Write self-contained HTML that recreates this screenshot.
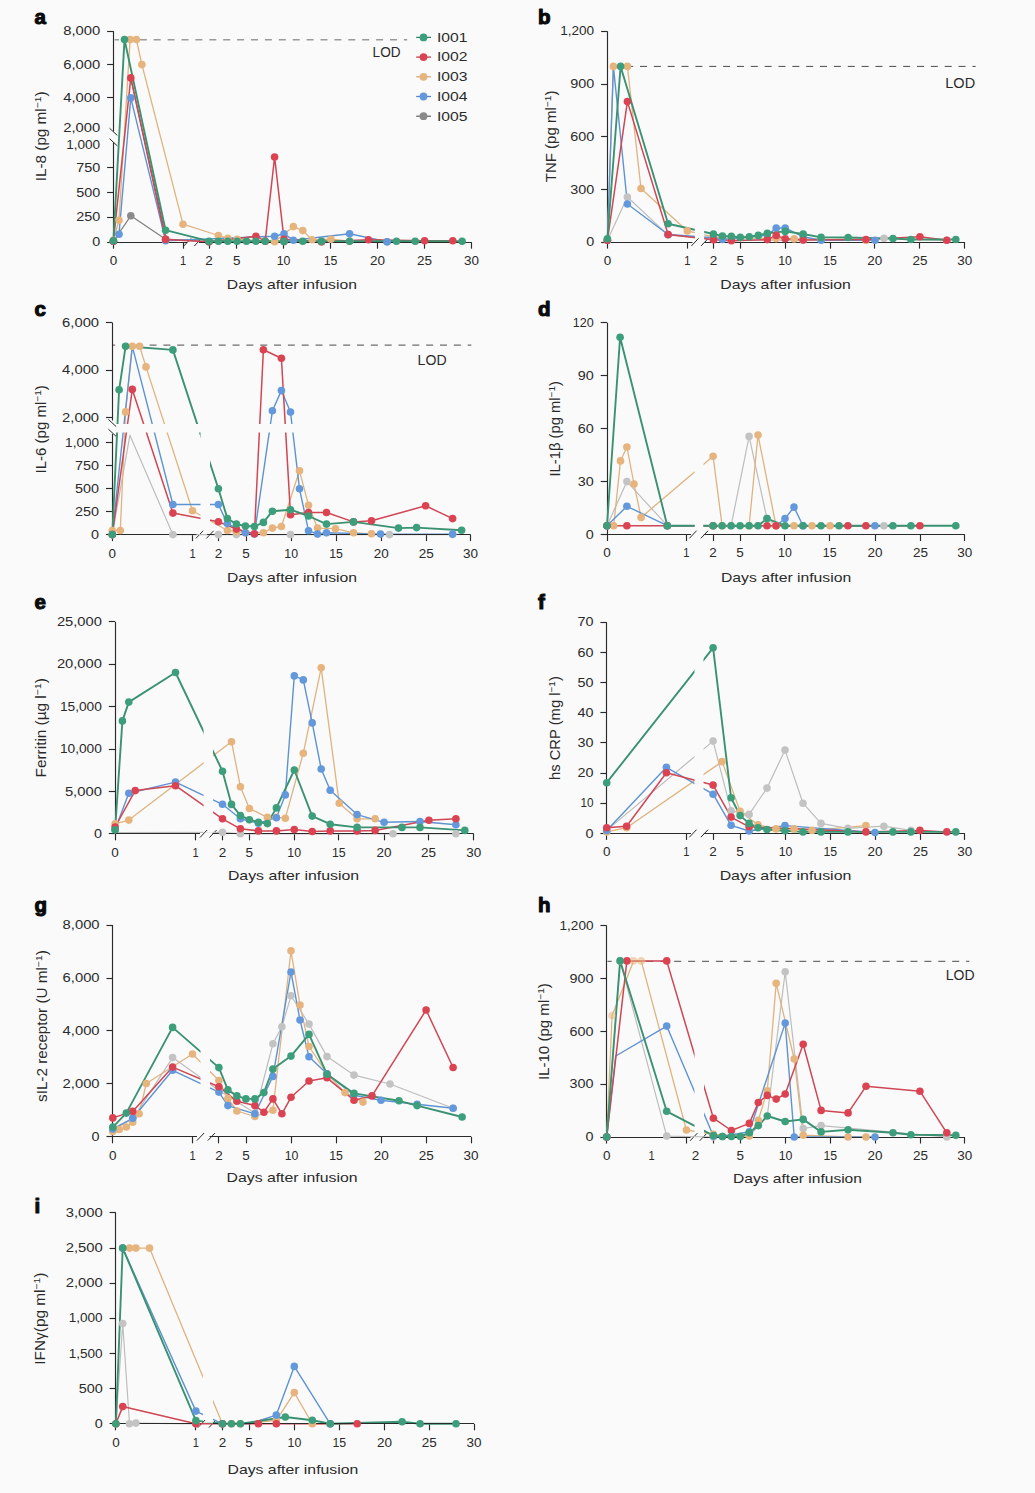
<!DOCTYPE html>
<html><head><meta charset="utf-8"><title>Cytokine kinetics</title>
<style>
html,body{margin:0;padding:0;background:#fafafa;}
svg{display:block;font-family:"Liberation Sans", sans-serif;}
</style></head>
<body>
<svg width="1035" height="1493" viewBox="0 0 1035 1493">
<defs><clipPath id="clip_b" clip-rule="evenodd"><path clip-rule="evenodd" d="M0,0H1035V1493H0Z M694.8,0V241H704.2V0Z "/></clipPath><clipPath id="clip_c" clip-rule="evenodd"><path clip-rule="evenodd" d="M0,0H1035V1493H0Z M200.5,300V533.5H210.0V300Z M116,424.0V432.5H200.5V424.0Z M210.0,424.0V432.5H472V424.0Z "/></clipPath><clipPath id="clip_d" clip-rule="evenodd"><path clip-rule="evenodd" d="M0,0H1035V1493H0Z M694.5,300V533.5H703.5V300Z "/></clipPath><clipPath id="clip_e" clip-rule="evenodd"><path clip-rule="evenodd" d="M0,0H1035V1493H0Z M203.6,600V832.8H213.0V600Z "/></clipPath><clipPath id="clip_f" clip-rule="evenodd"><path clip-rule="evenodd" d="M0,0H1035V1493H0Z M694.5,600V832.4H703.5V600Z "/></clipPath><clipPath id="clip_g" clip-rule="evenodd"><path clip-rule="evenodd" d="M0,0H1035V1493H0Z M200.5,900V1135.8H210.0V900Z "/></clipPath><clipPath id="clip_h" clip-rule="evenodd"><path clip-rule="evenodd" d="M0,0H1035V1493H0Z M694.5,900V1136.0H704.0V900Z "/></clipPath><clipPath id="clip_i" clip-rule="evenodd"><path clip-rule="evenodd" d="M0,0H1035V1493H0Z M203.0,1200V1422.8H213.0V1200Z "/></clipPath></defs>
<rect width="1035" height="1493" fill="#fafafa"/>
<text x="34.4" y="24.0" font-size="20.5" font-weight="bold" fill="#0a0a0a" stroke="#0a0a0a" stroke-width="1.1" stroke-linejoin="round">a</text>
<line x1="113.5" y1="31.2" x2="113.5" y2="131.3" stroke="#2a2a2a" stroke-width="1.15"/>
<line x1="113.5" y1="142.5" x2="113.5" y2="242.2" stroke="#2a2a2a" stroke-width="1.15"/>
<line x1="107.1" y1="31.5" x2="113.4" y2="31.5" stroke="#2a2a2a" stroke-width="1.15"/>
<text x="100.2" y="35.3" font-size="12.3" text-anchor="end" textLength="37.0" lengthAdjust="spacingAndGlyphs" fill="#2a2a2a">8,000</text>
<line x1="107.1" y1="64.5" x2="113.4" y2="64.5" stroke="#2a2a2a" stroke-width="1.15"/>
<text x="100.2" y="68.7" font-size="12.3" text-anchor="end" textLength="37.0" lengthAdjust="spacingAndGlyphs" fill="#2a2a2a">6,000</text>
<line x1="107.1" y1="97.5" x2="113.4" y2="97.5" stroke="#2a2a2a" stroke-width="1.15"/>
<text x="100.2" y="102.0" font-size="12.3" text-anchor="end" textLength="37.0" lengthAdjust="spacingAndGlyphs" fill="#2a2a2a">4,000</text>
<text x="100.2" y="131.5" font-size="12.3" text-anchor="end" textLength="37.0" lengthAdjust="spacingAndGlyphs" fill="#2a2a2a">2,000</text>
<text x="100.2" y="148.5" font-size="12.3" text-anchor="end" textLength="34.0" lengthAdjust="spacingAndGlyphs" fill="#2a2a2a">1,000</text>
<line x1="107.1" y1="167.5" x2="113.4" y2="167.5" stroke="#2a2a2a" stroke-width="1.15"/>
<text x="100.2" y="171.5" font-size="12.3" text-anchor="end" textLength="24.0" lengthAdjust="spacingAndGlyphs" fill="#2a2a2a">750</text>
<line x1="107.1" y1="192.5" x2="113.4" y2="192.5" stroke="#2a2a2a" stroke-width="1.15"/>
<text x="100.2" y="196.5" font-size="12.3" text-anchor="end" textLength="24.0" lengthAdjust="spacingAndGlyphs" fill="#2a2a2a">500</text>
<line x1="107.1" y1="217.5" x2="113.4" y2="217.5" stroke="#2a2a2a" stroke-width="1.15"/>
<text x="100.2" y="221.4" font-size="12.3" text-anchor="end" textLength="24.0" lengthAdjust="spacingAndGlyphs" fill="#2a2a2a">250</text>
<line x1="107.1" y1="242.5" x2="113.4" y2="242.5" stroke="#2a2a2a" stroke-width="1.15"/>
<text x="100.2" y="246.3" font-size="12.3" text-anchor="end" textLength="8.0" lengthAdjust="spacingAndGlyphs" fill="#2a2a2a">0</text>
<line x1="109.5" y1="128.2" x2="117.3" y2="135.4" stroke="#2a2a2a" stroke-width="1"/>
<line x1="109.5" y1="138.6" x2="117.3" y2="145.8" stroke="#2a2a2a" stroke-width="1"/>
<line x1="113.5" y1="242.2" x2="113.5" y2="248.7" stroke="#2a2a2a" stroke-width="1.15"/>
<text x="113.4" y="265.1" font-size="12.1" text-anchor="middle" textLength="7.5" lengthAdjust="spacingAndGlyphs" fill="#2a2a2a">0</text>
<line x1="183.5" y1="242.2" x2="183.5" y2="248.7" stroke="#2a2a2a" stroke-width="1.15"/>
<text x="183.0" y="265.1" font-size="12.1" text-anchor="middle" textLength="6.2" lengthAdjust="spacingAndGlyphs" fill="#2a2a2a">1</text>
<line x1="209.5" y1="242.2" x2="209.5" y2="248.7" stroke="#2a2a2a" stroke-width="1.15"/>
<text x="209.0" y="265.1" font-size="12.1" text-anchor="middle" textLength="7.5" lengthAdjust="spacingAndGlyphs" fill="#2a2a2a">2</text>
<line x1="236.5" y1="242.2" x2="236.5" y2="248.7" stroke="#2a2a2a" stroke-width="1.15"/>
<text x="236.8" y="265.1" font-size="12.1" text-anchor="middle" textLength="7.5" lengthAdjust="spacingAndGlyphs" fill="#2a2a2a">5</text>
<line x1="283.5" y1="242.2" x2="283.5" y2="248.7" stroke="#2a2a2a" stroke-width="1.15"/>
<text x="283.6" y="265.1" font-size="12.1" text-anchor="middle" textLength="13.7" lengthAdjust="spacingAndGlyphs" fill="#2a2a2a">10</text>
<line x1="330.5" y1="242.2" x2="330.5" y2="248.7" stroke="#2a2a2a" stroke-width="1.15"/>
<text x="330.5" y="265.1" font-size="12.1" text-anchor="middle" textLength="13.7" lengthAdjust="spacingAndGlyphs" fill="#2a2a2a">15</text>
<line x1="377.5" y1="242.2" x2="377.5" y2="248.7" stroke="#2a2a2a" stroke-width="1.15"/>
<text x="377.5" y="265.1" font-size="12.1" text-anchor="middle" textLength="15.0" lengthAdjust="spacingAndGlyphs" fill="#2a2a2a">20</text>
<line x1="424.5" y1="242.2" x2="424.5" y2="248.7" stroke="#2a2a2a" stroke-width="1.15"/>
<text x="424.6" y="265.1" font-size="12.1" text-anchor="middle" textLength="15.0" lengthAdjust="spacingAndGlyphs" fill="#2a2a2a">25</text>
<line x1="471.5" y1="242.2" x2="471.5" y2="248.7" stroke="#2a2a2a" stroke-width="1.15"/>
<text x="471.5" y="265.1" font-size="12.1" text-anchor="middle" textLength="15.0" lengthAdjust="spacingAndGlyphs" fill="#2a2a2a">30</text>
<line x1="183.8" y1="246.0" x2="191.0" y2="238.4" stroke="#2a2a2a" stroke-width="1"/>
<line x1="194.3" y1="246.0" x2="201.5" y2="238.4" stroke="#2a2a2a" stroke-width="1"/>
<text x="291.9" y="288.8" font-size="13.6" text-anchor="middle" textLength="130.1" lengthAdjust="spacingAndGlyphs" fill="#2a2a2a">Days after infusion</text>
<text transform="translate(45.8,136.3) rotate(-90) scale(1.092,1)" x="0" y="0" font-size="14" text-anchor="middle" fill="#2a2a2a">IL-8 (pg ml<tspan font-size="9.5" dy="-5.2">−1</tspan><tspan dy="5.2">)</tspan></text>
<line x1="114.5" y1="39.8" x2="407.2" y2="39.8" stroke="#9a9a9a" stroke-width="1.5" stroke-dasharray="7,6.9" stroke-dashoffset="2.50"/>
<text x="372.6" y="56.6" font-size="13.8" textLength="28.0" lengthAdjust="spacingAndGlyphs" fill="#2a2a2a">LOD</text>
<polyline points="113.4,241.2 130.8,215.8 165.6,239.2 209.0,241.7 284.0,241.7 321.5,241.7 387.1,241.7" fill="none" stroke="#7f7f7f" stroke-width="1.2" stroke-linejoin="round"/>
<polyline points="113.4,240.2 119.0,220.3 130.1,39.5 136.4,39.5 141.9,64.6 183.0,224.2 218.4,235.5 227.8,238.4 237.1,239.2 274.6,241.7 293.4,226.6 302.8,230.6 312.1,239.8 330.9,239.2 349.6,241.2" fill="none" stroke="#dfb37f" stroke-width="1.3" stroke-linejoin="round"/>
<polyline points="130.8,77.9 165.6,236.2" fill="none" stroke="#a8535c" stroke-width="1.2" stroke-linejoin="round"/>
<polyline points="113.4,241.2 119.0,234.2 130.8,97.9 165.6,240.7 274.6,236.2 284.0,233.8 293.4,240.2 349.6,233.7 387.1,241.7" fill="none" stroke="#5e93d2" stroke-width="1.4" stroke-linejoin="round"/>
<polyline points="113.4,241.2 130.8,77.9 165.6,239.4 209.0,241.7 255.9,236.2 265.2,241.2 274.6,157.0 284.0,239.2 321.5,241.7 368.4,239.7 424.6,240.7 452.8,240.7" fill="none" stroke="#cf4654" stroke-width="1.5" stroke-linejoin="round"/>
<polyline points="113.4,240.7 124.5,39.5 165.6,230.2 209.0,241.2 218.4,241.2 227.8,241.2 237.1,241.2 246.5,241.2 255.9,241.2 265.2,241.2 284.0,241.2 302.8,241.2 321.5,241.2 349.6,241.2 396.5,241.2 415.2,241.2 462.1,241.2" fill="none" stroke="#3b9272" stroke-width="1.9" stroke-linejoin="round"/>
<line x1="113.4" y1="242.5" x2="187.0" y2="242.5" stroke="#2a2a2a" stroke-width="1.15"/>
<line x1="199.0" y1="242.5" x2="471.5" y2="242.5" stroke="#2a2a2a" stroke-width="1.15"/>
<circle cx="113.4" cy="241.2" r="3.8" fill="#8a8a8a"/>
<circle cx="130.8" cy="215.8" r="3.8" fill="#8a8a8a"/>
<circle cx="165.6" cy="239.2" r="3.8" fill="#8a8a8a"/>
<circle cx="209.0" cy="241.7" r="3.8" fill="#8a8a8a"/>
<circle cx="284.0" cy="241.7" r="3.8" fill="#8a8a8a"/>
<circle cx="321.5" cy="241.7" r="3.8" fill="#8a8a8a"/>
<circle cx="387.1" cy="241.7" r="3.8" fill="#8a8a8a"/>
<circle cx="113.4" cy="240.2" r="3.8" fill="#e6b47c"/>
<circle cx="119.0" cy="220.3" r="3.8" fill="#e6b47c"/>
<circle cx="130.1" cy="39.5" r="3.8" fill="#e6b47c"/>
<circle cx="136.4" cy="39.5" r="3.8" fill="#e6b47c"/>
<circle cx="141.9" cy="64.6" r="3.8" fill="#e6b47c"/>
<circle cx="183.0" cy="224.2" r="3.8" fill="#e6b47c"/>
<circle cx="218.4" cy="235.5" r="3.8" fill="#e6b47c"/>
<circle cx="227.8" cy="238.4" r="3.8" fill="#e6b47c"/>
<circle cx="237.1" cy="239.2" r="3.8" fill="#e6b47c"/>
<circle cx="274.6" cy="241.7" r="3.8" fill="#e6b47c"/>
<circle cx="293.4" cy="226.6" r="3.8" fill="#e6b47c"/>
<circle cx="302.8" cy="230.6" r="3.8" fill="#e6b47c"/>
<circle cx="312.1" cy="239.8" r="3.8" fill="#e6b47c"/>
<circle cx="330.9" cy="239.2" r="3.8" fill="#e6b47c"/>
<circle cx="349.6" cy="241.2" r="3.8" fill="#e6b47c"/>
<circle cx="113.4" cy="241.2" r="3.8" fill="#6399dc"/>
<circle cx="119.0" cy="234.2" r="3.8" fill="#6399dc"/>
<circle cx="130.8" cy="97.9" r="3.8" fill="#6399dc"/>
<circle cx="165.6" cy="240.7" r="3.8" fill="#6399dc"/>
<circle cx="274.6" cy="236.2" r="3.8" fill="#6399dc"/>
<circle cx="284.0" cy="233.8" r="3.8" fill="#6399dc"/>
<circle cx="293.4" cy="240.2" r="3.8" fill="#6399dc"/>
<circle cx="349.6" cy="233.7" r="3.8" fill="#6399dc"/>
<circle cx="387.1" cy="241.7" r="3.8" fill="#6399dc"/>
<circle cx="113.4" cy="241.2" r="3.8" fill="#dc4352"/>
<circle cx="130.8" cy="77.9" r="3.8" fill="#dc4352"/>
<circle cx="165.6" cy="239.4" r="3.8" fill="#dc4352"/>
<circle cx="209.0" cy="241.7" r="3.8" fill="#dc4352"/>
<circle cx="255.9" cy="236.2" r="3.8" fill="#dc4352"/>
<circle cx="265.2" cy="241.2" r="3.8" fill="#dc4352"/>
<circle cx="274.6" cy="157.0" r="3.8" fill="#dc4352"/>
<circle cx="284.0" cy="239.2" r="3.8" fill="#dc4352"/>
<circle cx="321.5" cy="241.7" r="3.8" fill="#dc4352"/>
<circle cx="368.4" cy="239.7" r="3.8" fill="#dc4352"/>
<circle cx="424.6" cy="240.7" r="3.8" fill="#dc4352"/>
<circle cx="452.8" cy="240.7" r="3.8" fill="#dc4352"/>
<circle cx="113.4" cy="240.7" r="3.8" fill="#3d9e7b"/>
<circle cx="124.5" cy="39.5" r="3.8" fill="#3d9e7b"/>
<circle cx="165.6" cy="230.2" r="3.8" fill="#3d9e7b"/>
<circle cx="209.0" cy="241.2" r="3.8" fill="#3d9e7b"/>
<circle cx="218.4" cy="241.2" r="3.8" fill="#3d9e7b"/>
<circle cx="227.8" cy="241.2" r="3.8" fill="#3d9e7b"/>
<circle cx="237.1" cy="241.2" r="3.8" fill="#3d9e7b"/>
<circle cx="246.5" cy="241.2" r="3.8" fill="#3d9e7b"/>
<circle cx="255.9" cy="241.2" r="3.8" fill="#3d9e7b"/>
<circle cx="265.2" cy="241.2" r="3.8" fill="#3d9e7b"/>
<circle cx="284.0" cy="241.2" r="3.8" fill="#3d9e7b"/>
<circle cx="302.8" cy="241.2" r="3.8" fill="#3d9e7b"/>
<circle cx="321.5" cy="241.2" r="3.8" fill="#3d9e7b"/>
<circle cx="349.6" cy="241.2" r="3.8" fill="#3d9e7b"/>
<circle cx="396.5" cy="241.2" r="3.8" fill="#3d9e7b"/>
<circle cx="415.2" cy="241.2" r="3.8" fill="#3d9e7b"/>
<circle cx="462.1" cy="241.2" r="3.8" fill="#3d9e7b"/>
<line x1="416.2" y1="37.4" x2="431.0" y2="37.4" stroke="#347f64" stroke-width="1.3"/>
<circle cx="423.5" cy="37.4" r="3.9" fill="#3d9e7b"/>
<text x="436.9" y="41.7" font-size="13.4" textLength="30.5" lengthAdjust="spacingAndGlyphs" fill="#2a2a2a">I001</text>
<line x1="416.2" y1="57.1" x2="431.0" y2="57.1" stroke="#b8424d" stroke-width="1.3"/>
<circle cx="423.5" cy="57.1" r="3.9" fill="#dc4352"/>
<text x="436.9" y="61.4" font-size="13.4" textLength="30.5" lengthAdjust="spacingAndGlyphs" fill="#2a2a2a">I002</text>
<line x1="416.2" y1="76.8" x2="431.0" y2="76.8" stroke="#d2a877" stroke-width="1.3"/>
<circle cx="423.5" cy="76.8" r="3.9" fill="#e6b47c"/>
<text x="436.9" y="81.1" font-size="13.4" textLength="30.5" lengthAdjust="spacingAndGlyphs" fill="#2a2a2a">I003</text>
<line x1="416.2" y1="96.5" x2="431.0" y2="96.5" stroke="#5283c4" stroke-width="1.3"/>
<circle cx="423.5" cy="96.5" r="3.9" fill="#6399dc"/>
<text x="436.9" y="100.8" font-size="13.4" textLength="30.5" lengthAdjust="spacingAndGlyphs" fill="#2a2a2a">I004</text>
<line x1="416.2" y1="116.2" x2="431.0" y2="116.2" stroke="#6a6a6a" stroke-width="1.3"/>
<circle cx="423.5" cy="116.2" r="3.9" fill="#8a8a8a"/>
<text x="436.9" y="120.5" font-size="13.4" textLength="30.5" lengthAdjust="spacingAndGlyphs" fill="#2a2a2a">I005</text>
<text x="538.1" y="23.7" font-size="20.5" font-weight="bold" fill="#0a0a0a" stroke="#0a0a0a" stroke-width="1.1" stroke-linejoin="round">b</text>
<line x1="607.5" y1="31.3" x2="607.5" y2="242.1" stroke="#2a2a2a" stroke-width="1.15"/>
<line x1="601.1" y1="31.5" x2="607.4" y2="31.5" stroke="#2a2a2a" stroke-width="1.15"/>
<text x="594.2" y="35.4" font-size="12.3" text-anchor="end" textLength="34.0" lengthAdjust="spacingAndGlyphs" fill="#2a2a2a">1,200</text>
<line x1="601.1" y1="84.5" x2="607.4" y2="84.5" stroke="#2a2a2a" stroke-width="1.15"/>
<text x="594.2" y="88.1" font-size="12.3" text-anchor="end" textLength="24.0" lengthAdjust="spacingAndGlyphs" fill="#2a2a2a">900</text>
<line x1="601.1" y1="136.5" x2="607.4" y2="136.5" stroke="#2a2a2a" stroke-width="1.15"/>
<text x="594.2" y="140.8" font-size="12.3" text-anchor="end" textLength="24.0" lengthAdjust="spacingAndGlyphs" fill="#2a2a2a">600</text>
<line x1="601.1" y1="189.5" x2="607.4" y2="189.5" stroke="#2a2a2a" stroke-width="1.15"/>
<text x="594.2" y="193.5" font-size="12.3" text-anchor="end" textLength="24.0" lengthAdjust="spacingAndGlyphs" fill="#2a2a2a">300</text>
<line x1="601.1" y1="242.5" x2="607.4" y2="242.5" stroke="#2a2a2a" stroke-width="1.15"/>
<text x="594.2" y="246.2" font-size="12.3" text-anchor="end" textLength="8.0" lengthAdjust="spacingAndGlyphs" fill="#2a2a2a">0</text>
<line x1="607.5" y1="242.1" x2="607.5" y2="248.6" stroke="#2a2a2a" stroke-width="1.15"/>
<text x="607.4" y="265.0" font-size="12.1" text-anchor="middle" textLength="7.5" lengthAdjust="spacingAndGlyphs" fill="#2a2a2a">0</text>
<line x1="687.5" y1="242.1" x2="687.5" y2="248.6" stroke="#2a2a2a" stroke-width="1.15"/>
<text x="687.3" y="265.0" font-size="12.1" text-anchor="middle" textLength="6.2" lengthAdjust="spacingAndGlyphs" fill="#2a2a2a">1</text>
<line x1="713.5" y1="242.1" x2="713.5" y2="248.6" stroke="#2a2a2a" stroke-width="1.15"/>
<text x="713.4" y="265.0" font-size="12.1" text-anchor="middle" textLength="7.5" lengthAdjust="spacingAndGlyphs" fill="#2a2a2a">2</text>
<line x1="740.5" y1="242.1" x2="740.5" y2="248.6" stroke="#2a2a2a" stroke-width="1.15"/>
<text x="740.3" y="265.0" font-size="12.1" text-anchor="middle" textLength="7.5" lengthAdjust="spacingAndGlyphs" fill="#2a2a2a">5</text>
<line x1="785.5" y1="242.1" x2="785.5" y2="248.6" stroke="#2a2a2a" stroke-width="1.15"/>
<text x="785.0" y="265.0" font-size="12.1" text-anchor="middle" textLength="13.7" lengthAdjust="spacingAndGlyphs" fill="#2a2a2a">10</text>
<line x1="830.5" y1="242.1" x2="830.5" y2="248.6" stroke="#2a2a2a" stroke-width="1.15"/>
<text x="830.0" y="265.0" font-size="12.1" text-anchor="middle" textLength="13.7" lengthAdjust="spacingAndGlyphs" fill="#2a2a2a">15</text>
<line x1="874.5" y1="242.1" x2="874.5" y2="248.6" stroke="#2a2a2a" stroke-width="1.15"/>
<text x="874.8" y="265.0" font-size="12.1" text-anchor="middle" textLength="15.0" lengthAdjust="spacingAndGlyphs" fill="#2a2a2a">20</text>
<line x1="919.5" y1="242.1" x2="919.5" y2="248.6" stroke="#2a2a2a" stroke-width="1.15"/>
<text x="919.9" y="265.0" font-size="12.1" text-anchor="middle" textLength="15.0" lengthAdjust="spacingAndGlyphs" fill="#2a2a2a">25</text>
<line x1="964.5" y1="242.1" x2="964.5" y2="248.6" stroke="#2a2a2a" stroke-width="1.15"/>
<text x="964.8" y="265.0" font-size="12.1" text-anchor="middle" textLength="15.0" lengthAdjust="spacingAndGlyphs" fill="#2a2a2a">30</text>
<line x1="691.4" y1="245.9" x2="698.6" y2="238.3" stroke="#2a2a2a" stroke-width="1"/>
<line x1="701.1" y1="245.9" x2="708.3" y2="238.3" stroke="#2a2a2a" stroke-width="1"/>
<text x="785.6" y="288.6" font-size="13.6" text-anchor="middle" textLength="130.5" lengthAdjust="spacingAndGlyphs" fill="#2a2a2a">Days after infusion</text>
<text transform="translate(555.9,136.4) rotate(-90) scale(1.073,1)" x="0" y="0" font-size="14" text-anchor="middle" fill="#2a2a2a">TNF (pg ml<tspan font-size="9.5" dy="-5.2">−1</tspan><tspan dy="5.2">)</tspan></text>
<line x1="608.5" y1="66.4" x2="975.7" y2="66.4" stroke="#4a4a4a" stroke-width="1.0" stroke-dasharray="7,6.85" stroke-dashoffset="10.05"/>
<text x="945.3" y="87.6" font-size="14.4" textLength="29.8" lengthAdjust="spacingAndGlyphs" fill="#2a2a2a">LOD</text>
<polyline points="607.4,240.3 627.4,197.0 668.1,235.1 713.4,238.6 731.4,240.0 803.2,240.3 884.0,238.2 946.8,240.3" fill="none" stroke="#bdbdbd" stroke-width="1.2" stroke-linejoin="round" clip-path="url(#clip_b)"/>
<polyline points="607.4,240.3 613.4,66.4 627.4,66.4 641.0,188.5 687.3,230.9 713.4,236.8 722.4,237.7 776.2,238.6 794.2,238.9 821.1,239.5 866.0,240.3" fill="none" stroke="#dfb37f" stroke-width="1.3" stroke-linejoin="round" clip-path="url(#clip_b)"/>
<polyline points="607.4,240.3 613.4,66.4 627.4,204.0 668.1,234.5 713.4,237.7 722.4,239.5 767.3,235.1 776.2,228.0 785.2,228.0 803.2,236.8 821.1,240.3 875.0,240.3" fill="none" stroke="#5e93d2" stroke-width="1.4" stroke-linejoin="round" clip-path="url(#clip_b)"/>
<polyline points="607.4,240.3 627.4,101.6 668.1,234.5 713.4,239.8 731.4,240.7 767.3,239.6 776.2,235.4 785.2,238.8 803.2,240.0 866.0,239.5 919.9,236.7 946.8,240.3" fill="none" stroke="#cf4654" stroke-width="1.5" stroke-linejoin="round" clip-path="url(#clip_b)"/>
<polyline points="607.4,238.8 620.6,66.4 668.1,223.7 713.4,234.0 722.4,236.1 731.4,236.3 740.3,237.4 749.3,236.7 758.3,235.4 767.3,233.3 785.2,231.4 803.2,234.0 821.1,237.4 848.1,237.5 893.0,238.6 910.9,239.5 955.8,239.5" fill="none" stroke="#3b9272" stroke-width="1.9" stroke-linejoin="round" clip-path="url(#clip_b)"/>
<line x1="607.4" y1="242.5" x2="692.4" y2="242.5" stroke="#2a2a2a" stroke-width="1.15"/>
<line x1="704.4" y1="242.5" x2="964.8" y2="242.5" stroke="#2a2a2a" stroke-width="1.15"/>
<circle cx="607.4" cy="240.3" r="3.8" fill="#c3c3c3"/>
<circle cx="627.4" cy="197.0" r="3.8" fill="#c3c3c3"/>
<circle cx="668.1" cy="235.1" r="3.8" fill="#c3c3c3"/>
<circle cx="713.4" cy="238.6" r="3.8" fill="#c3c3c3"/>
<circle cx="731.4" cy="240.0" r="3.8" fill="#c3c3c3"/>
<circle cx="803.2" cy="240.3" r="3.8" fill="#c3c3c3"/>
<circle cx="884.0" cy="238.2" r="3.8" fill="#c3c3c3"/>
<circle cx="946.8" cy="240.3" r="3.8" fill="#c3c3c3"/>
<circle cx="607.4" cy="240.3" r="3.8" fill="#e6b47c"/>
<circle cx="613.4" cy="66.4" r="3.8" fill="#e6b47c"/>
<circle cx="627.4" cy="66.4" r="3.8" fill="#e6b47c"/>
<circle cx="641.0" cy="188.5" r="3.8" fill="#e6b47c"/>
<circle cx="687.3" cy="230.9" r="3.8" fill="#e6b47c"/>
<circle cx="713.4" cy="236.8" r="3.8" fill="#e6b47c"/>
<circle cx="722.4" cy="237.7" r="3.8" fill="#e6b47c"/>
<circle cx="776.2" cy="238.6" r="3.8" fill="#e6b47c"/>
<circle cx="794.2" cy="238.9" r="3.8" fill="#e6b47c"/>
<circle cx="821.1" cy="239.5" r="3.8" fill="#e6b47c"/>
<circle cx="866.0" cy="240.3" r="3.8" fill="#e6b47c"/>
<circle cx="607.4" cy="240.3" r="3.8" fill="#6399dc"/>
<circle cx="627.4" cy="204.0" r="3.8" fill="#6399dc"/>
<circle cx="668.1" cy="234.5" r="3.8" fill="#6399dc"/>
<circle cx="713.4" cy="237.7" r="3.8" fill="#6399dc"/>
<circle cx="722.4" cy="239.5" r="3.8" fill="#6399dc"/>
<circle cx="767.3" cy="235.1" r="3.8" fill="#6399dc"/>
<circle cx="776.2" cy="228.0" r="3.8" fill="#6399dc"/>
<circle cx="785.2" cy="228.0" r="3.8" fill="#6399dc"/>
<circle cx="803.2" cy="236.8" r="3.8" fill="#6399dc"/>
<circle cx="821.1" cy="240.3" r="3.8" fill="#6399dc"/>
<circle cx="875.0" cy="240.3" r="3.8" fill="#6399dc"/>
<circle cx="607.4" cy="240.3" r="3.8" fill="#dc4352"/>
<circle cx="627.4" cy="101.6" r="3.8" fill="#dc4352"/>
<circle cx="668.1" cy="234.5" r="3.8" fill="#dc4352"/>
<circle cx="713.4" cy="239.8" r="3.8" fill="#dc4352"/>
<circle cx="731.4" cy="240.7" r="3.8" fill="#dc4352"/>
<circle cx="767.3" cy="239.6" r="3.8" fill="#dc4352"/>
<circle cx="776.2" cy="235.4" r="3.8" fill="#dc4352"/>
<circle cx="785.2" cy="238.8" r="3.8" fill="#dc4352"/>
<circle cx="803.2" cy="240.0" r="3.8" fill="#dc4352"/>
<circle cx="866.0" cy="239.5" r="3.8" fill="#dc4352"/>
<circle cx="919.9" cy="236.7" r="3.8" fill="#dc4352"/>
<circle cx="946.8" cy="240.3" r="3.8" fill="#dc4352"/>
<circle cx="607.4" cy="238.8" r="3.8" fill="#3d9e7b"/>
<circle cx="620.6" cy="66.4" r="3.8" fill="#3d9e7b"/>
<circle cx="668.1" cy="223.7" r="3.8" fill="#3d9e7b"/>
<circle cx="713.4" cy="234.0" r="3.8" fill="#3d9e7b"/>
<circle cx="722.4" cy="236.1" r="3.8" fill="#3d9e7b"/>
<circle cx="731.4" cy="236.3" r="3.8" fill="#3d9e7b"/>
<circle cx="740.3" cy="237.4" r="3.8" fill="#3d9e7b"/>
<circle cx="749.3" cy="236.7" r="3.8" fill="#3d9e7b"/>
<circle cx="758.3" cy="235.4" r="3.8" fill="#3d9e7b"/>
<circle cx="767.3" cy="233.3" r="3.8" fill="#3d9e7b"/>
<circle cx="785.2" cy="231.4" r="3.8" fill="#3d9e7b"/>
<circle cx="803.2" cy="234.0" r="3.8" fill="#3d9e7b"/>
<circle cx="821.1" cy="237.4" r="3.8" fill="#3d9e7b"/>
<circle cx="848.1" cy="237.5" r="3.8" fill="#3d9e7b"/>
<circle cx="893.0" cy="238.6" r="3.8" fill="#3d9e7b"/>
<circle cx="910.9" cy="239.5" r="3.8" fill="#3d9e7b"/>
<circle cx="955.8" cy="239.5" r="3.8" fill="#3d9e7b"/>
<text x="34.4" y="316.3" font-size="20.5" font-weight="bold" fill="#0a0a0a" stroke="#0a0a0a" stroke-width="1.1" stroke-linejoin="round">c</text>
<line x1="112.5" y1="322.6" x2="112.5" y2="420.5" stroke="#2a2a2a" stroke-width="1.15"/>
<line x1="112.5" y1="434.0" x2="112.5" y2="534.6" stroke="#2a2a2a" stroke-width="1.15"/>
<line x1="106.0" y1="322.5" x2="112.3" y2="322.5" stroke="#2a2a2a" stroke-width="1.15"/>
<text x="99.1" y="326.7" font-size="12.3" text-anchor="end" textLength="37.0" lengthAdjust="spacingAndGlyphs" fill="#2a2a2a">6,000</text>
<line x1="106.0" y1="370.5" x2="112.3" y2="370.5" stroke="#2a2a2a" stroke-width="1.15"/>
<text x="99.1" y="374.3" font-size="12.3" text-anchor="end" textLength="37.0" lengthAdjust="spacingAndGlyphs" fill="#2a2a2a">4,000</text>
<line x1="106.0" y1="417.5" x2="112.3" y2="417.5" stroke="#2a2a2a" stroke-width="1.15"/>
<text x="99.1" y="421.5" font-size="12.3" text-anchor="end" textLength="37.0" lengthAdjust="spacingAndGlyphs" fill="#2a2a2a">2,000</text>
<line x1="106.0" y1="442.5" x2="112.3" y2="442.5" stroke="#2a2a2a" stroke-width="1.15"/>
<text x="99.1" y="447.0" font-size="12.3" text-anchor="end" textLength="34.0" lengthAdjust="spacingAndGlyphs" fill="#2a2a2a">1,000</text>
<line x1="106.0" y1="465.5" x2="112.3" y2="465.5" stroke="#2a2a2a" stroke-width="1.15"/>
<text x="99.1" y="469.9" font-size="12.3" text-anchor="end" textLength="24.0" lengthAdjust="spacingAndGlyphs" fill="#2a2a2a">750</text>
<line x1="106.0" y1="488.5" x2="112.3" y2="488.5" stroke="#2a2a2a" stroke-width="1.15"/>
<text x="99.1" y="492.9" font-size="12.3" text-anchor="end" textLength="24.0" lengthAdjust="spacingAndGlyphs" fill="#2a2a2a">500</text>
<line x1="106.0" y1="511.5" x2="112.3" y2="511.5" stroke="#2a2a2a" stroke-width="1.15"/>
<text x="99.1" y="515.8" font-size="12.3" text-anchor="end" textLength="24.0" lengthAdjust="spacingAndGlyphs" fill="#2a2a2a">250</text>
<line x1="106.0" y1="534.5" x2="112.3" y2="534.5" stroke="#2a2a2a" stroke-width="1.15"/>
<text x="99.1" y="538.7" font-size="12.3" text-anchor="end" textLength="8.0" lengthAdjust="spacingAndGlyphs" fill="#2a2a2a">0</text>
<line x1="108.4" y1="419.4" x2="116.2" y2="426.6" stroke="#2a2a2a" stroke-width="1"/>
<line x1="108.4" y1="429.2" x2="116.2" y2="436.4" stroke="#2a2a2a" stroke-width="1"/>
<line x1="112.5" y1="534.6" x2="112.5" y2="541.1" stroke="#2a2a2a" stroke-width="1.15"/>
<text x="112.3" y="557.5" font-size="12.1" text-anchor="middle" textLength="7.5" lengthAdjust="spacingAndGlyphs" fill="#2a2a2a">0</text>
<line x1="192.5" y1="534.6" x2="192.5" y2="541.1" stroke="#2a2a2a" stroke-width="1.15"/>
<text x="192.5" y="557.5" font-size="12.1" text-anchor="middle" textLength="6.2" lengthAdjust="spacingAndGlyphs" fill="#2a2a2a">1</text>
<line x1="218.5" y1="534.6" x2="218.5" y2="541.1" stroke="#2a2a2a" stroke-width="1.15"/>
<text x="218.4" y="557.5" font-size="12.1" text-anchor="middle" textLength="7.5" lengthAdjust="spacingAndGlyphs" fill="#2a2a2a">2</text>
<line x1="246.5" y1="534.6" x2="246.5" y2="541.1" stroke="#2a2a2a" stroke-width="1.15"/>
<text x="246.0" y="557.5" font-size="12.1" text-anchor="middle" textLength="7.5" lengthAdjust="spacingAndGlyphs" fill="#2a2a2a">5</text>
<line x1="291.5" y1="534.6" x2="291.5" y2="541.1" stroke="#2a2a2a" stroke-width="1.15"/>
<text x="291.2" y="557.5" font-size="12.1" text-anchor="middle" textLength="13.7" lengthAdjust="spacingAndGlyphs" fill="#2a2a2a">10</text>
<line x1="336.5" y1="534.6" x2="336.5" y2="541.1" stroke="#2a2a2a" stroke-width="1.15"/>
<text x="336.1" y="557.5" font-size="12.1" text-anchor="middle" textLength="13.7" lengthAdjust="spacingAndGlyphs" fill="#2a2a2a">15</text>
<line x1="381.5" y1="534.6" x2="381.5" y2="541.1" stroke="#2a2a2a" stroke-width="1.15"/>
<text x="381.3" y="557.5" font-size="12.1" text-anchor="middle" textLength="15.0" lengthAdjust="spacingAndGlyphs" fill="#2a2a2a">20</text>
<line x1="426.5" y1="534.6" x2="426.5" y2="541.1" stroke="#2a2a2a" stroke-width="1.15"/>
<text x="426.2" y="557.5" font-size="12.1" text-anchor="middle" textLength="15.0" lengthAdjust="spacingAndGlyphs" fill="#2a2a2a">25</text>
<line x1="470.5" y1="534.6" x2="470.5" y2="541.1" stroke="#2a2a2a" stroke-width="1.15"/>
<text x="470.6" y="557.5" font-size="12.1" text-anchor="middle" textLength="15.0" lengthAdjust="spacingAndGlyphs" fill="#2a2a2a">30</text>
<line x1="195.9" y1="538.4" x2="203.1" y2="530.8" stroke="#2a2a2a" stroke-width="1"/>
<line x1="206.4" y1="538.4" x2="213.6" y2="530.8" stroke="#2a2a2a" stroke-width="1"/>
<text x="292.0" y="581.6" font-size="13.6" text-anchor="middle" textLength="130.0" lengthAdjust="spacingAndGlyphs" fill="#2a2a2a">Days after infusion</text>
<text transform="translate(45.7,429.3) rotate(-90) scale(1.072,1)" x="0" y="0" font-size="14" text-anchor="middle" fill="#2a2a2a">IL-6 (pg ml<tspan font-size="9.5" dy="-5.2">−1</tspan><tspan dy="5.2">)</tspan></text>
<line x1="113.0" y1="345.1" x2="471.3" y2="345.1" stroke="#4a4a4a" stroke-width="1.0" stroke-dasharray="7,6.83" stroke-dashoffset="4.92"/>
<text x="417.6" y="364.6" font-size="14.0" textLength="29.0" lengthAdjust="spacingAndGlyphs" fill="#2a2a2a">LOD</text>
<polyline points="112.3,534.6 129.9,435.2 172.9,534.6 218.4,534.6 236.4,534.6 290.5,534.6 389.5,534.6 452.6,534.6" fill="none" stroke="#bdbdbd" stroke-width="1.2" stroke-linejoin="round" clip-path="url(#clip_c)"/>
<polyline points="112.3,530.5 120.3,530.5 125.6,411.9 132.3,346.3 139.6,346.3 146.0,366.9 192.5,510.8 227.4,530.5 236.4,531.7 245.4,532.8 263.4,532.7 272.4,528.1 281.4,526.5 299.5,470.7 308.5,505.3 317.5,528.1 335.5,528.7 353.5,532.8 371.5,533.8" fill="none" stroke="#dfb37f" stroke-width="1.3" stroke-linejoin="round" clip-path="url(#clip_c)"/>
<polyline points="112.3,534.6 132.3,346.3 172.9,504.5 218.4,504.5 227.4,523.6 245.4,532.8 254.4,534.1 272.4,410.8 281.4,390.6 290.5,412.1 299.5,488.8 308.5,530.7 317.5,534.1 326.5,532.8 380.5,534.1 452.6,534.1" fill="none" stroke="#5e93d2" stroke-width="1.4" stroke-linejoin="round" clip-path="url(#clip_c)"/>
<polyline points="112.3,534.6 132.3,389.4 172.9,513.1 218.4,521.8 236.4,529.1 254.4,533.7 263.4,349.7 281.4,358.2 290.5,514.7 308.5,512.5 326.5,512.5 353.5,521.9 371.5,520.8 425.6,505.8 452.6,518.6" fill="none" stroke="#cf4654" stroke-width="1.5" stroke-linejoin="round" clip-path="url(#clip_c)"/>
<polyline points="112.3,534.6 119.1,389.8 125.6,346.3 172.9,349.9 218.4,488.8 227.4,518.5 236.4,524.1 245.4,526.0 254.4,526.5 263.4,522.4 272.4,511.2 290.5,509.7 308.5,516.0 326.5,524.1 353.5,521.9 398.5,528.1 416.6,527.6 461.6,530.3" fill="none" stroke="#3b9272" stroke-width="1.9" stroke-linejoin="round" clip-path="url(#clip_c)"/>
<line x1="112.3" y1="534.5" x2="196.5" y2="534.5" stroke="#2a2a2a" stroke-width="1.15"/>
<line x1="207.0" y1="534.5" x2="470.6" y2="534.5" stroke="#2a2a2a" stroke-width="1.15"/>
<circle cx="112.3" cy="534.6" r="3.8" fill="#c3c3c3"/>
<circle cx="172.9" cy="534.6" r="3.8" fill="#c3c3c3"/>
<circle cx="218.4" cy="534.6" r="3.8" fill="#c3c3c3"/>
<circle cx="236.4" cy="534.6" r="3.8" fill="#c3c3c3"/>
<circle cx="290.5" cy="534.6" r="3.8" fill="#c3c3c3"/>
<circle cx="389.5" cy="534.6" r="3.8" fill="#c3c3c3"/>
<circle cx="452.6" cy="534.6" r="3.8" fill="#c3c3c3"/>
<circle cx="112.3" cy="530.5" r="3.8" fill="#e6b47c"/>
<circle cx="120.3" cy="530.5" r="3.8" fill="#e6b47c"/>
<circle cx="125.6" cy="411.9" r="3.8" fill="#e6b47c"/>
<circle cx="132.3" cy="346.3" r="3.8" fill="#e6b47c"/>
<circle cx="139.6" cy="346.3" r="3.8" fill="#e6b47c"/>
<circle cx="146.0" cy="366.9" r="3.8" fill="#e6b47c"/>
<circle cx="192.5" cy="510.8" r="3.8" fill="#e6b47c"/>
<circle cx="227.4" cy="530.5" r="3.8" fill="#e6b47c"/>
<circle cx="236.4" cy="531.7" r="3.8" fill="#e6b47c"/>
<circle cx="245.4" cy="532.8" r="3.8" fill="#e6b47c"/>
<circle cx="263.4" cy="532.7" r="3.8" fill="#e6b47c"/>
<circle cx="272.4" cy="528.1" r="3.8" fill="#e6b47c"/>
<circle cx="281.4" cy="526.5" r="3.8" fill="#e6b47c"/>
<circle cx="299.5" cy="470.7" r="3.8" fill="#e6b47c"/>
<circle cx="308.5" cy="505.3" r="3.8" fill="#e6b47c"/>
<circle cx="317.5" cy="528.1" r="3.8" fill="#e6b47c"/>
<circle cx="335.5" cy="528.7" r="3.8" fill="#e6b47c"/>
<circle cx="353.5" cy="532.8" r="3.8" fill="#e6b47c"/>
<circle cx="371.5" cy="533.8" r="3.8" fill="#e6b47c"/>
<circle cx="112.3" cy="534.6" r="3.8" fill="#6399dc"/>
<circle cx="172.9" cy="504.5" r="3.8" fill="#6399dc"/>
<circle cx="218.4" cy="504.5" r="3.8" fill="#6399dc"/>
<circle cx="227.4" cy="523.6" r="3.8" fill="#6399dc"/>
<circle cx="245.4" cy="532.8" r="3.8" fill="#6399dc"/>
<circle cx="254.4" cy="534.1" r="3.8" fill="#6399dc"/>
<circle cx="272.4" cy="410.8" r="3.8" fill="#6399dc"/>
<circle cx="281.4" cy="390.6" r="3.8" fill="#6399dc"/>
<circle cx="290.5" cy="412.1" r="3.8" fill="#6399dc"/>
<circle cx="299.5" cy="488.8" r="3.8" fill="#6399dc"/>
<circle cx="308.5" cy="530.7" r="3.8" fill="#6399dc"/>
<circle cx="317.5" cy="534.1" r="3.8" fill="#6399dc"/>
<circle cx="326.5" cy="532.8" r="3.8" fill="#6399dc"/>
<circle cx="380.5" cy="534.1" r="3.8" fill="#6399dc"/>
<circle cx="452.6" cy="534.1" r="3.8" fill="#6399dc"/>
<circle cx="112.3" cy="534.6" r="3.8" fill="#dc4352"/>
<circle cx="132.3" cy="389.4" r="3.8" fill="#dc4352"/>
<circle cx="172.9" cy="513.1" r="3.8" fill="#dc4352"/>
<circle cx="218.4" cy="521.8" r="3.8" fill="#dc4352"/>
<circle cx="236.4" cy="529.1" r="3.8" fill="#dc4352"/>
<circle cx="254.4" cy="533.7" r="3.8" fill="#dc4352"/>
<circle cx="263.4" cy="349.7" r="3.8" fill="#dc4352"/>
<circle cx="281.4" cy="358.2" r="3.8" fill="#dc4352"/>
<circle cx="290.5" cy="514.7" r="3.8" fill="#dc4352"/>
<circle cx="308.5" cy="512.5" r="3.8" fill="#dc4352"/>
<circle cx="326.5" cy="512.5" r="3.8" fill="#dc4352"/>
<circle cx="353.5" cy="521.9" r="3.8" fill="#dc4352"/>
<circle cx="371.5" cy="520.8" r="3.8" fill="#dc4352"/>
<circle cx="425.6" cy="505.8" r="3.8" fill="#dc4352"/>
<circle cx="452.6" cy="518.6" r="3.8" fill="#dc4352"/>
<circle cx="112.3" cy="534.6" r="3.8" fill="#3d9e7b"/>
<circle cx="119.1" cy="389.8" r="3.8" fill="#3d9e7b"/>
<circle cx="125.6" cy="346.3" r="3.8" fill="#3d9e7b"/>
<circle cx="172.9" cy="349.9" r="3.8" fill="#3d9e7b"/>
<circle cx="218.4" cy="488.8" r="3.8" fill="#3d9e7b"/>
<circle cx="227.4" cy="518.5" r="3.8" fill="#3d9e7b"/>
<circle cx="236.4" cy="524.1" r="3.8" fill="#3d9e7b"/>
<circle cx="245.4" cy="526.0" r="3.8" fill="#3d9e7b"/>
<circle cx="254.4" cy="526.5" r="3.8" fill="#3d9e7b"/>
<circle cx="263.4" cy="522.4" r="3.8" fill="#3d9e7b"/>
<circle cx="272.4" cy="511.2" r="3.8" fill="#3d9e7b"/>
<circle cx="290.5" cy="509.7" r="3.8" fill="#3d9e7b"/>
<circle cx="308.5" cy="516.0" r="3.8" fill="#3d9e7b"/>
<circle cx="326.5" cy="524.1" r="3.8" fill="#3d9e7b"/>
<circle cx="353.5" cy="521.9" r="3.8" fill="#3d9e7b"/>
<circle cx="398.5" cy="528.1" r="3.8" fill="#3d9e7b"/>
<circle cx="416.6" cy="527.6" r="3.8" fill="#3d9e7b"/>
<circle cx="461.6" cy="530.3" r="3.8" fill="#3d9e7b"/>
<text x="538.1" y="316.2" font-size="20.5" font-weight="bold" fill="#0a0a0a" stroke="#0a0a0a" stroke-width="1.1" stroke-linejoin="round">d</text>
<line x1="607.5" y1="322.7" x2="607.5" y2="534.5" stroke="#2a2a2a" stroke-width="1.15"/>
<line x1="600.7" y1="322.5" x2="607.0" y2="322.5" stroke="#2a2a2a" stroke-width="1.15"/>
<text x="593.8" y="326.8" font-size="12.3" text-anchor="end" textLength="21.0" lengthAdjust="spacingAndGlyphs" fill="#2a2a2a">120</text>
<line x1="600.7" y1="375.5" x2="607.0" y2="375.5" stroke="#2a2a2a" stroke-width="1.15"/>
<text x="593.8" y="379.9" font-size="12.3" text-anchor="end" textLength="16.0" lengthAdjust="spacingAndGlyphs" fill="#2a2a2a">90</text>
<line x1="600.7" y1="428.5" x2="607.0" y2="428.5" stroke="#2a2a2a" stroke-width="1.15"/>
<text x="593.8" y="432.7" font-size="12.3" text-anchor="end" textLength="16.0" lengthAdjust="spacingAndGlyphs" fill="#2a2a2a">60</text>
<line x1="600.7" y1="481.5" x2="607.0" y2="481.5" stroke="#2a2a2a" stroke-width="1.15"/>
<text x="593.8" y="485.7" font-size="12.3" text-anchor="end" textLength="16.0" lengthAdjust="spacingAndGlyphs" fill="#2a2a2a">30</text>
<line x1="600.7" y1="534.5" x2="607.0" y2="534.5" stroke="#2a2a2a" stroke-width="1.15"/>
<text x="593.8" y="538.6" font-size="12.3" text-anchor="end" textLength="8.0" lengthAdjust="spacingAndGlyphs" fill="#2a2a2a">0</text>
<line x1="607.5" y1="534.5" x2="607.5" y2="541.0" stroke="#2a2a2a" stroke-width="1.15"/>
<text x="607.0" y="557.4" font-size="12.1" text-anchor="middle" textLength="7.5" lengthAdjust="spacingAndGlyphs" fill="#2a2a2a">0</text>
<line x1="686.5" y1="534.5" x2="686.5" y2="541.0" stroke="#2a2a2a" stroke-width="1.15"/>
<text x="686.4" y="557.4" font-size="12.1" text-anchor="middle" textLength="6.2" lengthAdjust="spacingAndGlyphs" fill="#2a2a2a">1</text>
<line x1="713.5" y1="534.5" x2="713.5" y2="541.0" stroke="#2a2a2a" stroke-width="1.15"/>
<text x="713.1" y="557.4" font-size="12.1" text-anchor="middle" textLength="7.5" lengthAdjust="spacingAndGlyphs" fill="#2a2a2a">2</text>
<line x1="740.5" y1="534.5" x2="740.5" y2="541.0" stroke="#2a2a2a" stroke-width="1.15"/>
<text x="740.1" y="557.4" font-size="12.1" text-anchor="middle" textLength="7.5" lengthAdjust="spacingAndGlyphs" fill="#2a2a2a">5</text>
<line x1="784.5" y1="534.5" x2="784.5" y2="541.0" stroke="#2a2a2a" stroke-width="1.15"/>
<text x="784.9" y="557.4" font-size="12.1" text-anchor="middle" textLength="13.7" lengthAdjust="spacingAndGlyphs" fill="#2a2a2a">10</text>
<line x1="829.5" y1="534.5" x2="829.5" y2="541.0" stroke="#2a2a2a" stroke-width="1.15"/>
<text x="829.7" y="557.4" font-size="12.1" text-anchor="middle" textLength="13.7" lengthAdjust="spacingAndGlyphs" fill="#2a2a2a">15</text>
<line x1="875.5" y1="534.5" x2="875.5" y2="541.0" stroke="#2a2a2a" stroke-width="1.15"/>
<text x="875.1" y="557.4" font-size="12.1" text-anchor="middle" textLength="15.0" lengthAdjust="spacingAndGlyphs" fill="#2a2a2a">20</text>
<line x1="920.5" y1="534.5" x2="920.5" y2="541.0" stroke="#2a2a2a" stroke-width="1.15"/>
<text x="920.5" y="557.4" font-size="12.1" text-anchor="middle" textLength="15.0" lengthAdjust="spacingAndGlyphs" fill="#2a2a2a">25</text>
<line x1="964.5" y1="534.5" x2="964.5" y2="541.0" stroke="#2a2a2a" stroke-width="1.15"/>
<text x="964.8" y="557.4" font-size="12.1" text-anchor="middle" textLength="15.0" lengthAdjust="spacingAndGlyphs" fill="#2a2a2a">30</text>
<line x1="689.4" y1="538.3" x2="696.6" y2="530.7" stroke="#2a2a2a" stroke-width="1"/>
<line x1="700.9" y1="538.3" x2="708.1" y2="530.7" stroke="#2a2a2a" stroke-width="1"/>
<text x="786.1" y="581.5" font-size="13.6" text-anchor="middle" textLength="130.3" lengthAdjust="spacingAndGlyphs" fill="#2a2a2a">Days after infusion</text>
<text transform="translate(560.2,428.8) rotate(-90) scale(1.055,1)" x="0" y="0" font-size="14" text-anchor="middle" fill="#2a2a2a">IL-1β (pg ml<tspan font-size="9.5" dy="-5.2">−1</tspan><tspan dy="5.2">)</tspan></text>
<polyline points="607.0,525.7 626.9,481.6 667.3,525.7 713.1,525.7 731.1,525.7 749.1,436.4 767.0,518.6 776.0,525.7 883.9,525.7" fill="none" stroke="#bdbdbd" stroke-width="1.2" stroke-linejoin="round" clip-path="url(#clip_d)"/>
<polyline points="607.0,525.7 613.7,525.7 620.5,460.9 626.9,447.0 634.0,484.0 641.1,517.4 713.1,456.3 722.1,525.7 749.1,525.7 758.0,435.0 776.0,525.7 794.0,525.7 812.0,525.7 830.0,525.7" fill="none" stroke="#dfb37f" stroke-width="1.3" stroke-linejoin="round" clip-path="url(#clip_d)"/>
<polyline points="607.0,525.7 626.9,506.3 667.3,525.7 776.0,525.7 785.0,518.6 794.0,507.1 803.0,525.7 874.9,525.7" fill="none" stroke="#5e93d2" stroke-width="1.4" stroke-linejoin="round" clip-path="url(#clip_d)"/>
<polyline points="607.0,525.7 626.9,525.7 667.3,525.7 713.1,525.7 767.0,525.7 776.0,525.7 847.9,525.7 865.9,525.7 919.9,525.7" fill="none" stroke="#cf4654" stroke-width="1.5" stroke-linejoin="round" clip-path="url(#clip_d)"/>
<polyline points="607.0,525.7 620.1,337.2 667.3,525.7 713.1,525.7 722.1,525.7 731.1,525.7 740.1,525.7 749.1,525.7 758.0,525.7 767.0,518.6 785.0,525.7 803.0,525.7 821.0,525.7 839.0,525.7 892.9,525.7 910.9,525.7 955.8,525.7" fill="none" stroke="#3b9272" stroke-width="1.9" stroke-linejoin="round" clip-path="url(#clip_d)"/>
<line x1="607.0" y1="534.5" x2="691.0" y2="534.5" stroke="#2a2a2a" stroke-width="1.15"/>
<line x1="703.8" y1="534.5" x2="964.8" y2="534.5" stroke="#2a2a2a" stroke-width="1.15"/>
<circle cx="607.0" cy="525.7" r="3.8" fill="#c3c3c3"/>
<circle cx="626.9" cy="481.6" r="3.8" fill="#c3c3c3"/>
<circle cx="667.3" cy="525.7" r="3.8" fill="#c3c3c3"/>
<circle cx="713.1" cy="525.7" r="3.8" fill="#c3c3c3"/>
<circle cx="731.1" cy="525.7" r="3.8" fill="#c3c3c3"/>
<circle cx="749.1" cy="436.4" r="3.8" fill="#c3c3c3"/>
<circle cx="767.0" cy="518.6" r="3.8" fill="#c3c3c3"/>
<circle cx="776.0" cy="525.7" r="3.8" fill="#c3c3c3"/>
<circle cx="883.9" cy="525.7" r="3.8" fill="#c3c3c3"/>
<circle cx="607.0" cy="525.7" r="3.8" fill="#e6b47c"/>
<circle cx="613.7" cy="525.7" r="3.8" fill="#e6b47c"/>
<circle cx="620.5" cy="460.9" r="3.8" fill="#e6b47c"/>
<circle cx="626.9" cy="447.0" r="3.8" fill="#e6b47c"/>
<circle cx="634.0" cy="484.0" r="3.8" fill="#e6b47c"/>
<circle cx="641.1" cy="517.4" r="3.8" fill="#e6b47c"/>
<circle cx="713.1" cy="456.3" r="3.8" fill="#e6b47c"/>
<circle cx="722.1" cy="525.7" r="3.8" fill="#e6b47c"/>
<circle cx="749.1" cy="525.7" r="3.8" fill="#e6b47c"/>
<circle cx="758.0" cy="435.0" r="3.8" fill="#e6b47c"/>
<circle cx="776.0" cy="525.7" r="3.8" fill="#e6b47c"/>
<circle cx="794.0" cy="525.7" r="3.8" fill="#e6b47c"/>
<circle cx="812.0" cy="525.7" r="3.8" fill="#e6b47c"/>
<circle cx="830.0" cy="525.7" r="3.8" fill="#e6b47c"/>
<circle cx="607.0" cy="525.7" r="3.8" fill="#6399dc"/>
<circle cx="626.9" cy="506.3" r="3.8" fill="#6399dc"/>
<circle cx="667.3" cy="525.7" r="3.8" fill="#6399dc"/>
<circle cx="785.0" cy="518.6" r="3.8" fill="#6399dc"/>
<circle cx="794.0" cy="507.1" r="3.8" fill="#6399dc"/>
<circle cx="803.0" cy="525.7" r="3.8" fill="#6399dc"/>
<circle cx="874.9" cy="525.7" r="3.8" fill="#6399dc"/>
<circle cx="607.0" cy="525.7" r="3.8" fill="#dc4352"/>
<circle cx="626.9" cy="525.7" r="3.8" fill="#dc4352"/>
<circle cx="667.3" cy="525.7" r="3.8" fill="#dc4352"/>
<circle cx="713.1" cy="525.7" r="3.8" fill="#dc4352"/>
<circle cx="767.0" cy="525.7" r="3.8" fill="#dc4352"/>
<circle cx="776.0" cy="525.7" r="3.8" fill="#dc4352"/>
<circle cx="847.9" cy="525.7" r="3.8" fill="#dc4352"/>
<circle cx="865.9" cy="525.7" r="3.8" fill="#dc4352"/>
<circle cx="919.9" cy="525.7" r="3.8" fill="#dc4352"/>
<circle cx="607.0" cy="525.7" r="3.8" fill="#3d9e7b"/>
<circle cx="620.1" cy="337.2" r="3.8" fill="#3d9e7b"/>
<circle cx="667.3" cy="525.7" r="3.8" fill="#3d9e7b"/>
<circle cx="713.1" cy="525.7" r="3.8" fill="#3d9e7b"/>
<circle cx="722.1" cy="525.7" r="3.8" fill="#3d9e7b"/>
<circle cx="731.1" cy="525.7" r="3.8" fill="#3d9e7b"/>
<circle cx="740.1" cy="525.7" r="3.8" fill="#3d9e7b"/>
<circle cx="749.1" cy="525.7" r="3.8" fill="#3d9e7b"/>
<circle cx="758.0" cy="525.7" r="3.8" fill="#3d9e7b"/>
<circle cx="767.0" cy="518.6" r="3.8" fill="#3d9e7b"/>
<circle cx="785.0" cy="525.7" r="3.8" fill="#3d9e7b"/>
<circle cx="803.0" cy="525.7" r="3.8" fill="#3d9e7b"/>
<circle cx="821.0" cy="525.7" r="3.8" fill="#3d9e7b"/>
<circle cx="839.0" cy="525.7" r="3.8" fill="#3d9e7b"/>
<circle cx="892.9" cy="525.7" r="3.8" fill="#3d9e7b"/>
<circle cx="910.9" cy="525.7" r="3.8" fill="#3d9e7b"/>
<circle cx="955.8" cy="525.7" r="3.8" fill="#3d9e7b"/>
<text x="34.4" y="609.0" font-size="20.5" font-weight="bold" fill="#0a0a0a" stroke="#0a0a0a" stroke-width="1.1" stroke-linejoin="round">e</text>
<line x1="115.5" y1="621.9" x2="115.5" y2="833.8" stroke="#2a2a2a" stroke-width="1.15"/>
<line x1="108.8" y1="621.5" x2="115.1" y2="621.5" stroke="#2a2a2a" stroke-width="1.15"/>
<text x="101.9" y="626.0" font-size="12.3" text-anchor="end" textLength="45.0" lengthAdjust="spacingAndGlyphs" fill="#2a2a2a">25,000</text>
<line x1="108.8" y1="664.5" x2="115.1" y2="664.5" stroke="#2a2a2a" stroke-width="1.15"/>
<text x="101.9" y="668.4" font-size="12.3" text-anchor="end" textLength="45.0" lengthAdjust="spacingAndGlyphs" fill="#2a2a2a">20,000</text>
<line x1="108.8" y1="706.5" x2="115.1" y2="706.5" stroke="#2a2a2a" stroke-width="1.15"/>
<text x="101.9" y="710.8" font-size="12.3" text-anchor="end" textLength="42.0" lengthAdjust="spacingAndGlyphs" fill="#2a2a2a">15,000</text>
<line x1="108.8" y1="749.5" x2="115.1" y2="749.5" stroke="#2a2a2a" stroke-width="1.15"/>
<text x="101.9" y="753.1" font-size="12.3" text-anchor="end" textLength="42.0" lengthAdjust="spacingAndGlyphs" fill="#2a2a2a">10,000</text>
<line x1="108.8" y1="791.5" x2="115.1" y2="791.5" stroke="#2a2a2a" stroke-width="1.15"/>
<text x="101.9" y="795.5" font-size="12.3" text-anchor="end" textLength="37.0" lengthAdjust="spacingAndGlyphs" fill="#2a2a2a">5,000</text>
<line x1="108.8" y1="833.5" x2="115.1" y2="833.5" stroke="#2a2a2a" stroke-width="1.15"/>
<text x="101.9" y="837.9" font-size="12.3" text-anchor="end" textLength="8.0" lengthAdjust="spacingAndGlyphs" fill="#2a2a2a">0</text>
<line x1="115.5" y1="833.8" x2="115.5" y2="840.3" stroke="#2a2a2a" stroke-width="1.15"/>
<text x="115.1" y="856.7" font-size="12.1" text-anchor="middle" textLength="7.5" lengthAdjust="spacingAndGlyphs" fill="#2a2a2a">0</text>
<line x1="195.5" y1="833.8" x2="195.5" y2="840.3" stroke="#2a2a2a" stroke-width="1.15"/>
<text x="195.7" y="856.7" font-size="12.1" text-anchor="middle" textLength="6.2" lengthAdjust="spacingAndGlyphs" fill="#2a2a2a">1</text>
<line x1="222.5" y1="833.8" x2="222.5" y2="840.3" stroke="#2a2a2a" stroke-width="1.15"/>
<text x="222.5" y="856.7" font-size="12.1" text-anchor="middle" textLength="7.5" lengthAdjust="spacingAndGlyphs" fill="#2a2a2a">2</text>
<line x1="249.5" y1="833.8" x2="249.5" y2="840.3" stroke="#2a2a2a" stroke-width="1.15"/>
<text x="249.2" y="856.7" font-size="12.1" text-anchor="middle" textLength="7.5" lengthAdjust="spacingAndGlyphs" fill="#2a2a2a">5</text>
<line x1="294.5" y1="833.8" x2="294.5" y2="840.3" stroke="#2a2a2a" stroke-width="1.15"/>
<text x="294.2" y="856.7" font-size="12.1" text-anchor="middle" textLength="13.7" lengthAdjust="spacingAndGlyphs" fill="#2a2a2a">10</text>
<line x1="338.5" y1="833.8" x2="338.5" y2="840.3" stroke="#2a2a2a" stroke-width="1.15"/>
<text x="338.8" y="856.7" font-size="12.1" text-anchor="middle" textLength="13.7" lengthAdjust="spacingAndGlyphs" fill="#2a2a2a">15</text>
<line x1="384.5" y1="833.8" x2="384.5" y2="840.3" stroke="#2a2a2a" stroke-width="1.15"/>
<text x="384.0" y="856.7" font-size="12.1" text-anchor="middle" textLength="15.0" lengthAdjust="spacingAndGlyphs" fill="#2a2a2a">20</text>
<line x1="428.5" y1="833.8" x2="428.5" y2="840.3" stroke="#2a2a2a" stroke-width="1.15"/>
<text x="428.6" y="856.7" font-size="12.1" text-anchor="middle" textLength="15.0" lengthAdjust="spacingAndGlyphs" fill="#2a2a2a">25</text>
<line x1="473.5" y1="833.8" x2="473.5" y2="840.3" stroke="#2a2a2a" stroke-width="1.15"/>
<text x="473.8" y="856.7" font-size="12.1" text-anchor="middle" textLength="15.0" lengthAdjust="spacingAndGlyphs" fill="#2a2a2a">30</text>
<line x1="199.9" y1="837.6" x2="207.1" y2="830.0" stroke="#2a2a2a" stroke-width="1"/>
<line x1="209.4" y1="837.6" x2="216.6" y2="830.0" stroke="#2a2a2a" stroke-width="1"/>
<text x="293.5" y="879.6" font-size="13.6" text-anchor="middle" textLength="131.2" lengthAdjust="spacingAndGlyphs" fill="#2a2a2a">Days after infusion</text>
<text transform="translate(45.9,727.8) rotate(-90) scale(1.097,1)" x="0" y="0" font-size="14" text-anchor="middle" fill="#2a2a2a">Ferritin (µg l<tspan font-size="9.5" dy="-5.2">−1</tspan><tspan dy="5.2">)</tspan></text>
<polyline points="115.1,832.5 222.5,832.3 240.4,833.8 393.0,833.8 455.9,833.8" fill="none" stroke="#bdbdbd" stroke-width="1.2" stroke-linejoin="round" clip-path="url(#clip_e)"/>
<polyline points="115.1,823.8 128.8,820.1 231.5,741.7 240.4,786.7 249.4,808.5 267.4,817.4 276.4,817.3 285.3,818.2 303.3,753.2 321.2,667.8 339.2,803.2 357.1,818.8 375.1,818.8" fill="none" stroke="#dfb37f" stroke-width="1.3" stroke-linejoin="round" clip-path="url(#clip_e)"/>
<polyline points="115.1,829.6 128.8,793.2 175.5,782.1 222.5,804.3 240.4,818.8 258.4,823.2 276.4,817.7 285.3,794.9 294.3,675.9 303.3,679.9 312.2,722.9 321.2,769.0 330.2,790.3 357.1,814.6 384.1,822.3 420.0,821.5 455.9,824.7" fill="none" stroke="#5e93d2" stroke-width="1.4" stroke-linejoin="round" clip-path="url(#clip_e)"/>
<polyline points="115.1,827.0 135.2,790.6 175.5,785.7 222.5,818.8 240.4,828.8 258.4,830.9 276.4,830.9 294.3,829.6 312.2,831.5 330.2,830.9 357.1,830.9 375.1,830.4 428.9,820.2 455.9,818.8" fill="none" stroke="#cf4654" stroke-width="1.5" stroke-linejoin="round" clip-path="url(#clip_e)"/>
<polyline points="115.1,829.8 122.4,720.9 128.8,702.1 175.5,672.5 222.5,771.2 231.5,804.4 240.4,815.6 249.4,819.7 258.4,822.3 267.4,823.6 276.4,807.9 294.3,770.0 312.2,816.1 330.2,824.2 357.1,827.4 402.0,827.4 420.0,827.4 464.8,830.4" fill="none" stroke="#3b9272" stroke-width="1.9" stroke-linejoin="round" clip-path="url(#clip_e)"/>
<line x1="115.1" y1="833.5" x2="200.0" y2="833.5" stroke="#2a2a2a" stroke-width="1.15"/>
<line x1="212.5" y1="833.5" x2="473.8" y2="833.5" stroke="#2a2a2a" stroke-width="1.15"/>
<circle cx="222.5" cy="832.3" r="3.8" fill="#c3c3c3"/>
<circle cx="240.4" cy="833.8" r="3.8" fill="#c3c3c3"/>
<circle cx="393.0" cy="833.8" r="3.8" fill="#c3c3c3"/>
<circle cx="455.9" cy="833.8" r="3.8" fill="#c3c3c3"/>
<circle cx="115.1" cy="823.8" r="3.8" fill="#e6b47c"/>
<circle cx="128.8" cy="820.1" r="3.8" fill="#e6b47c"/>
<circle cx="231.5" cy="741.7" r="3.8" fill="#e6b47c"/>
<circle cx="240.4" cy="786.7" r="3.8" fill="#e6b47c"/>
<circle cx="249.4" cy="808.5" r="3.8" fill="#e6b47c"/>
<circle cx="267.4" cy="817.4" r="3.8" fill="#e6b47c"/>
<circle cx="276.4" cy="817.3" r="3.8" fill="#e6b47c"/>
<circle cx="285.3" cy="818.2" r="3.8" fill="#e6b47c"/>
<circle cx="303.3" cy="753.2" r="3.8" fill="#e6b47c"/>
<circle cx="321.2" cy="667.8" r="3.8" fill="#e6b47c"/>
<circle cx="339.2" cy="803.2" r="3.8" fill="#e6b47c"/>
<circle cx="357.1" cy="818.8" r="3.8" fill="#e6b47c"/>
<circle cx="375.1" cy="818.8" r="3.8" fill="#e6b47c"/>
<circle cx="115.1" cy="829.6" r="3.8" fill="#6399dc"/>
<circle cx="128.8" cy="793.2" r="3.8" fill="#6399dc"/>
<circle cx="175.5" cy="782.1" r="3.8" fill="#6399dc"/>
<circle cx="222.5" cy="804.3" r="3.8" fill="#6399dc"/>
<circle cx="240.4" cy="818.8" r="3.8" fill="#6399dc"/>
<circle cx="258.4" cy="823.2" r="3.8" fill="#6399dc"/>
<circle cx="276.4" cy="817.7" r="3.8" fill="#6399dc"/>
<circle cx="285.3" cy="794.9" r="3.8" fill="#6399dc"/>
<circle cx="294.3" cy="675.9" r="3.8" fill="#6399dc"/>
<circle cx="303.3" cy="679.9" r="3.8" fill="#6399dc"/>
<circle cx="312.2" cy="722.9" r="3.8" fill="#6399dc"/>
<circle cx="321.2" cy="769.0" r="3.8" fill="#6399dc"/>
<circle cx="330.2" cy="790.3" r="3.8" fill="#6399dc"/>
<circle cx="357.1" cy="814.6" r="3.8" fill="#6399dc"/>
<circle cx="384.1" cy="822.3" r="3.8" fill="#6399dc"/>
<circle cx="420.0" cy="821.5" r="3.8" fill="#6399dc"/>
<circle cx="455.9" cy="824.7" r="3.8" fill="#6399dc"/>
<circle cx="115.1" cy="827.0" r="3.8" fill="#dc4352"/>
<circle cx="135.2" cy="790.6" r="3.8" fill="#dc4352"/>
<circle cx="175.5" cy="785.7" r="3.8" fill="#dc4352"/>
<circle cx="222.5" cy="818.8" r="3.8" fill="#dc4352"/>
<circle cx="240.4" cy="828.8" r="3.8" fill="#dc4352"/>
<circle cx="258.4" cy="830.9" r="3.8" fill="#dc4352"/>
<circle cx="276.4" cy="830.9" r="3.8" fill="#dc4352"/>
<circle cx="294.3" cy="829.6" r="3.8" fill="#dc4352"/>
<circle cx="312.2" cy="831.5" r="3.8" fill="#dc4352"/>
<circle cx="330.2" cy="830.9" r="3.8" fill="#dc4352"/>
<circle cx="357.1" cy="830.9" r="3.8" fill="#dc4352"/>
<circle cx="375.1" cy="830.4" r="3.8" fill="#dc4352"/>
<circle cx="428.9" cy="820.2" r="3.8" fill="#dc4352"/>
<circle cx="455.9" cy="818.8" r="3.8" fill="#dc4352"/>
<circle cx="115.1" cy="829.8" r="3.8" fill="#3d9e7b"/>
<circle cx="122.4" cy="720.9" r="3.8" fill="#3d9e7b"/>
<circle cx="128.8" cy="702.1" r="3.8" fill="#3d9e7b"/>
<circle cx="175.5" cy="672.5" r="3.8" fill="#3d9e7b"/>
<circle cx="222.5" cy="771.2" r="3.8" fill="#3d9e7b"/>
<circle cx="231.5" cy="804.4" r="3.8" fill="#3d9e7b"/>
<circle cx="240.4" cy="815.6" r="3.8" fill="#3d9e7b"/>
<circle cx="249.4" cy="819.7" r="3.8" fill="#3d9e7b"/>
<circle cx="258.4" cy="822.3" r="3.8" fill="#3d9e7b"/>
<circle cx="267.4" cy="823.6" r="3.8" fill="#3d9e7b"/>
<circle cx="276.4" cy="807.9" r="3.8" fill="#3d9e7b"/>
<circle cx="294.3" cy="770.0" r="3.8" fill="#3d9e7b"/>
<circle cx="312.2" cy="816.1" r="3.8" fill="#3d9e7b"/>
<circle cx="330.2" cy="824.2" r="3.8" fill="#3d9e7b"/>
<circle cx="357.1" cy="827.4" r="3.8" fill="#3d9e7b"/>
<circle cx="402.0" cy="827.4" r="3.8" fill="#3d9e7b"/>
<circle cx="420.0" cy="827.4" r="3.8" fill="#3d9e7b"/>
<circle cx="464.8" cy="830.4" r="3.8" fill="#3d9e7b"/>
<text x="538.1" y="609.3" font-size="20.5" font-weight="bold" fill="#0a0a0a" stroke="#0a0a0a" stroke-width="1.1" stroke-linejoin="round">f</text>
<line x1="606.5" y1="622.2" x2="606.5" y2="833.4" stroke="#2a2a2a" stroke-width="1.15"/>
<line x1="600.4" y1="622.5" x2="606.7" y2="622.5" stroke="#2a2a2a" stroke-width="1.15"/>
<text x="593.5" y="626.3" font-size="12.3" text-anchor="end" textLength="16.0" lengthAdjust="spacingAndGlyphs" fill="#2a2a2a">70</text>
<line x1="600.4" y1="652.5" x2="606.7" y2="652.5" stroke="#2a2a2a" stroke-width="1.15"/>
<text x="593.5" y="656.5" font-size="12.3" text-anchor="end" textLength="16.0" lengthAdjust="spacingAndGlyphs" fill="#2a2a2a">60</text>
<line x1="600.4" y1="682.5" x2="606.7" y2="682.5" stroke="#2a2a2a" stroke-width="1.15"/>
<text x="593.5" y="686.6" font-size="12.3" text-anchor="end" textLength="16.0" lengthAdjust="spacingAndGlyphs" fill="#2a2a2a">50</text>
<line x1="600.4" y1="712.5" x2="606.7" y2="712.5" stroke="#2a2a2a" stroke-width="1.15"/>
<text x="593.5" y="716.8" font-size="12.3" text-anchor="end" textLength="16.0" lengthAdjust="spacingAndGlyphs" fill="#2a2a2a">40</text>
<line x1="600.4" y1="742.5" x2="606.7" y2="742.5" stroke="#2a2a2a" stroke-width="1.15"/>
<text x="593.5" y="747.0" font-size="12.3" text-anchor="end" textLength="16.0" lengthAdjust="spacingAndGlyphs" fill="#2a2a2a">30</text>
<line x1="600.4" y1="773.5" x2="606.7" y2="773.5" stroke="#2a2a2a" stroke-width="1.15"/>
<text x="593.5" y="777.1" font-size="12.3" text-anchor="end" textLength="16.0" lengthAdjust="spacingAndGlyphs" fill="#2a2a2a">20</text>
<line x1="600.4" y1="803.5" x2="606.7" y2="803.5" stroke="#2a2a2a" stroke-width="1.15"/>
<text x="593.5" y="807.3" font-size="12.3" text-anchor="end" textLength="13.0" lengthAdjust="spacingAndGlyphs" fill="#2a2a2a">10</text>
<line x1="600.4" y1="833.5" x2="606.7" y2="833.5" stroke="#2a2a2a" stroke-width="1.15"/>
<text x="593.5" y="837.5" font-size="12.3" text-anchor="end" textLength="8.0" lengthAdjust="spacingAndGlyphs" fill="#2a2a2a">0</text>
<line x1="606.5" y1="833.4" x2="606.5" y2="839.9" stroke="#2a2a2a" stroke-width="1.15"/>
<text x="606.7" y="856.3" font-size="12.1" text-anchor="middle" textLength="7.5" lengthAdjust="spacingAndGlyphs" fill="#2a2a2a">0</text>
<line x1="686.5" y1="833.4" x2="686.5" y2="839.9" stroke="#2a2a2a" stroke-width="1.15"/>
<text x="686.3" y="856.3" font-size="12.1" text-anchor="middle" textLength="6.2" lengthAdjust="spacingAndGlyphs" fill="#2a2a2a">1</text>
<line x1="713.5" y1="833.4" x2="713.5" y2="839.9" stroke="#2a2a2a" stroke-width="1.15"/>
<text x="713.1" y="856.3" font-size="12.1" text-anchor="middle" textLength="7.5" lengthAdjust="spacingAndGlyphs" fill="#2a2a2a">2</text>
<line x1="740.5" y1="833.4" x2="740.5" y2="839.9" stroke="#2a2a2a" stroke-width="1.15"/>
<text x="740.1" y="856.3" font-size="12.1" text-anchor="middle" textLength="7.5" lengthAdjust="spacingAndGlyphs" fill="#2a2a2a">5</text>
<line x1="785.5" y1="833.4" x2="785.5" y2="839.9" stroke="#2a2a2a" stroke-width="1.15"/>
<text x="785.5" y="856.3" font-size="12.1" text-anchor="middle" textLength="13.7" lengthAdjust="spacingAndGlyphs" fill="#2a2a2a">10</text>
<line x1="830.5" y1="833.4" x2="830.5" y2="839.9" stroke="#2a2a2a" stroke-width="1.15"/>
<text x="830.3" y="856.3" font-size="12.1" text-anchor="middle" textLength="13.7" lengthAdjust="spacingAndGlyphs" fill="#2a2a2a">15</text>
<line x1="875.5" y1="833.4" x2="875.5" y2="839.9" stroke="#2a2a2a" stroke-width="1.15"/>
<text x="875.1" y="856.3" font-size="12.1" text-anchor="middle" textLength="15.0" lengthAdjust="spacingAndGlyphs" fill="#2a2a2a">20</text>
<line x1="920.5" y1="833.4" x2="920.5" y2="839.9" stroke="#2a2a2a" stroke-width="1.15"/>
<text x="920.5" y="856.3" font-size="12.1" text-anchor="middle" textLength="15.0" lengthAdjust="spacingAndGlyphs" fill="#2a2a2a">25</text>
<line x1="964.5" y1="833.4" x2="964.5" y2="839.9" stroke="#2a2a2a" stroke-width="1.15"/>
<text x="964.8" y="856.3" font-size="12.1" text-anchor="middle" textLength="15.0" lengthAdjust="spacingAndGlyphs" fill="#2a2a2a">30</text>
<line x1="689.4" y1="837.2" x2="696.6" y2="829.6" stroke="#2a2a2a" stroke-width="1"/>
<line x1="700.9" y1="837.2" x2="708.1" y2="829.6" stroke="#2a2a2a" stroke-width="1"/>
<text x="785.5" y="879.8" font-size="13.6" text-anchor="middle" textLength="131.7" lengthAdjust="spacingAndGlyphs" fill="#2a2a2a">Days after infusion</text>
<text transform="translate(560.2,728.1) rotate(-90) scale(1.056,1)" x="0" y="0" font-size="14" text-anchor="middle" fill="#2a2a2a">hs CRP (mg l<tspan font-size="9.5" dy="-5.2">−1</tspan><tspan dy="5.2">)</tspan></text>
<polyline points="606.7,830.4 713.1,741.1 731.1,810.8 749.1,814.4 767.0,788.1 785.0,750.1 803.0,803.2 821.0,823.4 847.9,828.3 883.9,826.2 910.9,830.4" fill="none" stroke="#bdbdbd" stroke-width="1.2" stroke-linejoin="round" clip-path="url(#clip_f)"/>
<polyline points="606.7,831.9 626.6,827.7 722.1,761.6 740.1,811.4 758.0,824.7 776.0,828.9 794.0,828.9 812.0,830.4 865.9,825.6" fill="none" stroke="#dfb37f" stroke-width="1.3" stroke-linejoin="round" clip-path="url(#clip_f)"/>
<polyline points="606.7,830.4 666.4,767.3 713.1,794.2 731.1,825.3 749.1,831.0 785.0,825.6 874.9,832.5" fill="none" stroke="#5e93d2" stroke-width="1.4" stroke-linejoin="round" clip-path="url(#clip_f)"/>
<polyline points="606.7,827.7 626.6,826.2 666.4,772.8 713.1,785.1 731.1,817.1 749.1,826.8 865.9,831.9 919.9,830.4 946.8,831.9" fill="none" stroke="#cf4654" stroke-width="1.5" stroke-linejoin="round" clip-path="url(#clip_f)"/>
<polyline points="606.7,782.7 713.1,647.8 731.1,797.8 740.1,815.6 749.1,823.4 758.0,827.7 767.0,829.5 785.0,830.7 803.0,831.9 821.0,831.9 847.9,831.9 892.9,831.9 910.9,831.9 955.8,831.9" fill="none" stroke="#3b9272" stroke-width="1.9" stroke-linejoin="round" clip-path="url(#clip_f)"/>
<line x1="606.7" y1="833.5" x2="691.0" y2="833.5" stroke="#2a2a2a" stroke-width="1.15"/>
<line x1="703.8" y1="833.5" x2="964.8" y2="833.5" stroke="#2a2a2a" stroke-width="1.15"/>
<circle cx="606.7" cy="830.4" r="3.8" fill="#c3c3c3"/>
<circle cx="713.1" cy="741.1" r="3.8" fill="#c3c3c3"/>
<circle cx="731.1" cy="810.8" r="3.8" fill="#c3c3c3"/>
<circle cx="749.1" cy="814.4" r="3.8" fill="#c3c3c3"/>
<circle cx="767.0" cy="788.1" r="3.8" fill="#c3c3c3"/>
<circle cx="785.0" cy="750.1" r="3.8" fill="#c3c3c3"/>
<circle cx="803.0" cy="803.2" r="3.8" fill="#c3c3c3"/>
<circle cx="821.0" cy="823.4" r="3.8" fill="#c3c3c3"/>
<circle cx="847.9" cy="828.3" r="3.8" fill="#c3c3c3"/>
<circle cx="883.9" cy="826.2" r="3.8" fill="#c3c3c3"/>
<circle cx="910.9" cy="830.4" r="3.8" fill="#c3c3c3"/>
<circle cx="606.7" cy="831.9" r="3.8" fill="#e6b47c"/>
<circle cx="626.6" cy="827.7" r="3.8" fill="#e6b47c"/>
<circle cx="722.1" cy="761.6" r="3.8" fill="#e6b47c"/>
<circle cx="740.1" cy="811.4" r="3.8" fill="#e6b47c"/>
<circle cx="758.0" cy="824.7" r="3.8" fill="#e6b47c"/>
<circle cx="776.0" cy="828.9" r="3.8" fill="#e6b47c"/>
<circle cx="794.0" cy="828.9" r="3.8" fill="#e6b47c"/>
<circle cx="812.0" cy="830.4" r="3.8" fill="#e6b47c"/>
<circle cx="865.9" cy="825.6" r="3.8" fill="#e6b47c"/>
<circle cx="606.7" cy="830.4" r="3.8" fill="#6399dc"/>
<circle cx="666.4" cy="767.3" r="3.8" fill="#6399dc"/>
<circle cx="713.1" cy="794.2" r="3.8" fill="#6399dc"/>
<circle cx="731.1" cy="825.3" r="3.8" fill="#6399dc"/>
<circle cx="749.1" cy="831.0" r="3.8" fill="#6399dc"/>
<circle cx="785.0" cy="825.6" r="3.8" fill="#6399dc"/>
<circle cx="874.9" cy="832.5" r="3.8" fill="#6399dc"/>
<circle cx="606.7" cy="827.7" r="3.8" fill="#dc4352"/>
<circle cx="626.6" cy="826.2" r="3.8" fill="#dc4352"/>
<circle cx="666.4" cy="772.8" r="3.8" fill="#dc4352"/>
<circle cx="713.1" cy="785.1" r="3.8" fill="#dc4352"/>
<circle cx="731.1" cy="817.1" r="3.8" fill="#dc4352"/>
<circle cx="749.1" cy="826.8" r="3.8" fill="#dc4352"/>
<circle cx="865.9" cy="831.9" r="3.8" fill="#dc4352"/>
<circle cx="919.9" cy="830.4" r="3.8" fill="#dc4352"/>
<circle cx="946.8" cy="831.9" r="3.8" fill="#dc4352"/>
<circle cx="606.7" cy="782.7" r="3.8" fill="#3d9e7b"/>
<circle cx="713.1" cy="647.8" r="3.8" fill="#3d9e7b"/>
<circle cx="731.1" cy="797.8" r="3.8" fill="#3d9e7b"/>
<circle cx="740.1" cy="815.6" r="3.8" fill="#3d9e7b"/>
<circle cx="749.1" cy="823.4" r="3.8" fill="#3d9e7b"/>
<circle cx="758.0" cy="827.7" r="3.8" fill="#3d9e7b"/>
<circle cx="767.0" cy="829.5" r="3.8" fill="#3d9e7b"/>
<circle cx="785.0" cy="830.7" r="3.8" fill="#3d9e7b"/>
<circle cx="803.0" cy="831.9" r="3.8" fill="#3d9e7b"/>
<circle cx="821.0" cy="831.9" r="3.8" fill="#3d9e7b"/>
<circle cx="847.9" cy="831.9" r="3.8" fill="#3d9e7b"/>
<circle cx="892.9" cy="831.9" r="3.8" fill="#3d9e7b"/>
<circle cx="910.9" cy="831.9" r="3.8" fill="#3d9e7b"/>
<circle cx="955.8" cy="831.9" r="3.8" fill="#3d9e7b"/>
<text x="34.4" y="912.3" font-size="20.5" font-weight="bold" fill="#0a0a0a" stroke="#0a0a0a" stroke-width="1.1" stroke-linejoin="round">g</text>
<line x1="112.5" y1="925.0" x2="112.5" y2="1136.8" stroke="#2a2a2a" stroke-width="1.15"/>
<line x1="106.5" y1="925.5" x2="112.8" y2="925.5" stroke="#2a2a2a" stroke-width="1.15"/>
<text x="99.6" y="929.1" font-size="12.3" text-anchor="end" textLength="37.0" lengthAdjust="spacingAndGlyphs" fill="#2a2a2a">8,000</text>
<line x1="106.5" y1="978.5" x2="112.8" y2="978.5" stroke="#2a2a2a" stroke-width="1.15"/>
<text x="99.6" y="982.1" font-size="12.3" text-anchor="end" textLength="37.0" lengthAdjust="spacingAndGlyphs" fill="#2a2a2a">6,000</text>
<line x1="106.5" y1="1030.5" x2="112.8" y2="1030.5" stroke="#2a2a2a" stroke-width="1.15"/>
<text x="99.6" y="1035.0" font-size="12.3" text-anchor="end" textLength="37.0" lengthAdjust="spacingAndGlyphs" fill="#2a2a2a">4,000</text>
<line x1="106.5" y1="1083.5" x2="112.8" y2="1083.5" stroke="#2a2a2a" stroke-width="1.15"/>
<text x="99.6" y="1087.9" font-size="12.3" text-anchor="end" textLength="37.0" lengthAdjust="spacingAndGlyphs" fill="#2a2a2a">2,000</text>
<line x1="106.5" y1="1136.5" x2="112.8" y2="1136.5" stroke="#2a2a2a" stroke-width="1.15"/>
<text x="99.6" y="1140.9" font-size="12.3" text-anchor="end" textLength="8.0" lengthAdjust="spacingAndGlyphs" fill="#2a2a2a">0</text>
<line x1="112.5" y1="1136.8" x2="112.5" y2="1143.3" stroke="#2a2a2a" stroke-width="1.15"/>
<text x="112.8" y="1159.7" font-size="12.1" text-anchor="middle" textLength="7.5" lengthAdjust="spacingAndGlyphs" fill="#2a2a2a">0</text>
<line x1="192.5" y1="1136.8" x2="192.5" y2="1143.3" stroke="#2a2a2a" stroke-width="1.15"/>
<text x="192.5" y="1159.7" font-size="12.1" text-anchor="middle" textLength="6.2" lengthAdjust="spacingAndGlyphs" fill="#2a2a2a">1</text>
<line x1="218.5" y1="1136.8" x2="218.5" y2="1143.3" stroke="#2a2a2a" stroke-width="1.15"/>
<text x="218.9" y="1159.7" font-size="12.1" text-anchor="middle" textLength="7.5" lengthAdjust="spacingAndGlyphs" fill="#2a2a2a">2</text>
<line x1="246.5" y1="1136.8" x2="246.5" y2="1143.3" stroke="#2a2a2a" stroke-width="1.15"/>
<text x="246.0" y="1159.7" font-size="12.1" text-anchor="middle" textLength="7.5" lengthAdjust="spacingAndGlyphs" fill="#2a2a2a">5</text>
<line x1="291.5" y1="1136.8" x2="291.5" y2="1143.3" stroke="#2a2a2a" stroke-width="1.15"/>
<text x="291.5" y="1159.7" font-size="12.1" text-anchor="middle" textLength="13.7" lengthAdjust="spacingAndGlyphs" fill="#2a2a2a">10</text>
<line x1="336.5" y1="1136.8" x2="336.5" y2="1143.3" stroke="#2a2a2a" stroke-width="1.15"/>
<text x="336.1" y="1159.7" font-size="12.1" text-anchor="middle" textLength="13.7" lengthAdjust="spacingAndGlyphs" fill="#2a2a2a">15</text>
<line x1="381.5" y1="1136.8" x2="381.5" y2="1143.3" stroke="#2a2a2a" stroke-width="1.15"/>
<text x="381.3" y="1159.7" font-size="12.1" text-anchor="middle" textLength="15.0" lengthAdjust="spacingAndGlyphs" fill="#2a2a2a">20</text>
<line x1="426.5" y1="1136.8" x2="426.5" y2="1143.3" stroke="#2a2a2a" stroke-width="1.15"/>
<text x="426.2" y="1159.7" font-size="12.1" text-anchor="middle" textLength="15.0" lengthAdjust="spacingAndGlyphs" fill="#2a2a2a">25</text>
<line x1="471.5" y1="1136.8" x2="471.5" y2="1143.3" stroke="#2a2a2a" stroke-width="1.15"/>
<text x="471.1" y="1159.7" font-size="12.1" text-anchor="middle" textLength="15.0" lengthAdjust="spacingAndGlyphs" fill="#2a2a2a">30</text>
<line x1="196.9" y1="1140.6" x2="204.1" y2="1133.0" stroke="#2a2a2a" stroke-width="1"/>
<line x1="207.8" y1="1140.6" x2="215.0" y2="1133.0" stroke="#2a2a2a" stroke-width="1"/>
<text x="292.0" y="1182.4" font-size="13.6" text-anchor="middle" textLength="131.0" lengthAdjust="spacingAndGlyphs" fill="#2a2a2a">Days after infusion</text>
<text transform="translate(46.7,1026.1) rotate(-90) scale(1.091,1)" x="0" y="0" font-size="14" text-anchor="middle" fill="#2a2a2a">sIL-2 receptor (U ml<tspan font-size="9.5" dy="-5.2">−1</tspan><tspan dy="5.2">)</tspan></text>
<polyline points="112.8,1130.2 132.7,1118.8 172.6,1057.6 218.9,1090.5 254.9,1113.0 272.9,1043.8 281.9,1026.8 291.0,995.8 309.0,1024.1 327.0,1056.6 354.0,1075.1 390.0,1084.0 453.1,1108.2" fill="none" stroke="#bdbdbd" stroke-width="1.2" stroke-linejoin="round" clip-path="url(#clip_g)"/>
<polyline points="112.8,1131.5 119.2,1129.5 126.3,1127.0 132.7,1122.3 139.1,1113.8 146.3,1083.5 192.5,1054.0 218.9,1080.5 227.9,1098.6 236.9,1111.0 254.9,1116.5 272.9,1110.3 291.0,950.8 300.0,1005.0 309.0,1046.5 327.0,1073.7 345.0,1092.6 363.0,1102.1" fill="none" stroke="#dfb37f" stroke-width="1.3" stroke-linejoin="round" clip-path="url(#clip_g)"/>
<polyline points="112.8,1128.9 132.7,1118.3 172.6,1070.3 218.9,1092.1 227.9,1105.6 254.9,1113.8 272.9,1076.4 291.0,972.0 300.0,1020.0 309.0,1056.8 327.0,1073.7 354.0,1095.3 381.0,1100.2 417.1,1104.3 453.1,1108.2" fill="none" stroke="#5e93d2" stroke-width="1.4" stroke-linejoin="round" clip-path="url(#clip_g)"/>
<polyline points="112.8,1117.9 132.7,1111.4 172.6,1067.1 218.9,1086.7 236.9,1101.3 254.9,1105.6 263.9,1112.2 272.9,1098.9 281.9,1113.8 291.0,1097.3 309.0,1081.0 327.0,1077.8 354.0,1100.2 372.0,1095.9 426.1,1010.0 453.1,1067.5" fill="none" stroke="#cf4654" stroke-width="1.5" stroke-linejoin="round" clip-path="url(#clip_g)"/>
<polyline points="112.8,1127.1 126.3,1113.1 172.6,1027.4 218.9,1067.6 227.9,1089.9 236.9,1095.9 245.9,1098.9 254.9,1098.9 263.9,1092.6 272.9,1069.1 291.0,1056.1 309.0,1034.4 327.0,1074.2 354.0,1093.4 399.0,1100.8 417.1,1105.6 462.1,1117.0" fill="none" stroke="#3b9272" stroke-width="1.9" stroke-linejoin="round" clip-path="url(#clip_g)"/>
<line x1="112.8" y1="1136.5" x2="197.0" y2="1136.5" stroke="#2a2a2a" stroke-width="1.15"/>
<line x1="209.5" y1="1136.5" x2="471.1" y2="1136.5" stroke="#2a2a2a" stroke-width="1.15"/>
<circle cx="112.8" cy="1130.2" r="3.8" fill="#c3c3c3"/>
<circle cx="132.7" cy="1118.8" r="3.8" fill="#c3c3c3"/>
<circle cx="172.6" cy="1057.6" r="3.8" fill="#c3c3c3"/>
<circle cx="218.9" cy="1090.5" r="3.8" fill="#c3c3c3"/>
<circle cx="254.9" cy="1113.0" r="3.8" fill="#c3c3c3"/>
<circle cx="272.9" cy="1043.8" r="3.8" fill="#c3c3c3"/>
<circle cx="281.9" cy="1026.8" r="3.8" fill="#c3c3c3"/>
<circle cx="291.0" cy="995.8" r="3.8" fill="#c3c3c3"/>
<circle cx="309.0" cy="1024.1" r="3.8" fill="#c3c3c3"/>
<circle cx="327.0" cy="1056.6" r="3.8" fill="#c3c3c3"/>
<circle cx="354.0" cy="1075.1" r="3.8" fill="#c3c3c3"/>
<circle cx="390.0" cy="1084.0" r="3.8" fill="#c3c3c3"/>
<circle cx="453.1" cy="1108.2" r="3.8" fill="#c3c3c3"/>
<circle cx="112.8" cy="1131.5" r="3.8" fill="#e6b47c"/>
<circle cx="119.2" cy="1129.5" r="3.8" fill="#e6b47c"/>
<circle cx="126.3" cy="1127.0" r="3.8" fill="#e6b47c"/>
<circle cx="132.7" cy="1122.3" r="3.8" fill="#e6b47c"/>
<circle cx="139.1" cy="1113.8" r="3.8" fill="#e6b47c"/>
<circle cx="146.3" cy="1083.5" r="3.8" fill="#e6b47c"/>
<circle cx="192.5" cy="1054.0" r="3.8" fill="#e6b47c"/>
<circle cx="218.9" cy="1080.5" r="3.8" fill="#e6b47c"/>
<circle cx="227.9" cy="1098.6" r="3.8" fill="#e6b47c"/>
<circle cx="236.9" cy="1111.0" r="3.8" fill="#e6b47c"/>
<circle cx="254.9" cy="1116.5" r="3.8" fill="#e6b47c"/>
<circle cx="272.9" cy="1110.3" r="3.8" fill="#e6b47c"/>
<circle cx="291.0" cy="950.8" r="3.8" fill="#e6b47c"/>
<circle cx="300.0" cy="1005.0" r="3.8" fill="#e6b47c"/>
<circle cx="309.0" cy="1046.5" r="3.8" fill="#e6b47c"/>
<circle cx="327.0" cy="1073.7" r="3.8" fill="#e6b47c"/>
<circle cx="345.0" cy="1092.6" r="3.8" fill="#e6b47c"/>
<circle cx="363.0" cy="1102.1" r="3.8" fill="#e6b47c"/>
<circle cx="112.8" cy="1128.9" r="3.8" fill="#6399dc"/>
<circle cx="132.7" cy="1118.3" r="3.8" fill="#6399dc"/>
<circle cx="172.6" cy="1070.3" r="3.8" fill="#6399dc"/>
<circle cx="218.9" cy="1092.1" r="3.8" fill="#6399dc"/>
<circle cx="227.9" cy="1105.6" r="3.8" fill="#6399dc"/>
<circle cx="254.9" cy="1113.8" r="3.8" fill="#6399dc"/>
<circle cx="272.9" cy="1076.4" r="3.8" fill="#6399dc"/>
<circle cx="291.0" cy="972.0" r="3.8" fill="#6399dc"/>
<circle cx="300.0" cy="1020.0" r="3.8" fill="#6399dc"/>
<circle cx="309.0" cy="1056.8" r="3.8" fill="#6399dc"/>
<circle cx="327.0" cy="1073.7" r="3.8" fill="#6399dc"/>
<circle cx="354.0" cy="1095.3" r="3.8" fill="#6399dc"/>
<circle cx="381.0" cy="1100.2" r="3.8" fill="#6399dc"/>
<circle cx="417.1" cy="1104.3" r="3.8" fill="#6399dc"/>
<circle cx="453.1" cy="1108.2" r="3.8" fill="#6399dc"/>
<circle cx="112.8" cy="1117.9" r="3.8" fill="#dc4352"/>
<circle cx="132.7" cy="1111.4" r="3.8" fill="#dc4352"/>
<circle cx="172.6" cy="1067.1" r="3.8" fill="#dc4352"/>
<circle cx="218.9" cy="1086.7" r="3.8" fill="#dc4352"/>
<circle cx="236.9" cy="1101.3" r="3.8" fill="#dc4352"/>
<circle cx="254.9" cy="1105.6" r="3.8" fill="#dc4352"/>
<circle cx="263.9" cy="1112.2" r="3.8" fill="#dc4352"/>
<circle cx="272.9" cy="1098.9" r="3.8" fill="#dc4352"/>
<circle cx="281.9" cy="1113.8" r="3.8" fill="#dc4352"/>
<circle cx="291.0" cy="1097.3" r="3.8" fill="#dc4352"/>
<circle cx="309.0" cy="1081.0" r="3.8" fill="#dc4352"/>
<circle cx="327.0" cy="1077.8" r="3.8" fill="#dc4352"/>
<circle cx="354.0" cy="1100.2" r="3.8" fill="#dc4352"/>
<circle cx="372.0" cy="1095.9" r="3.8" fill="#dc4352"/>
<circle cx="426.1" cy="1010.0" r="3.8" fill="#dc4352"/>
<circle cx="453.1" cy="1067.5" r="3.8" fill="#dc4352"/>
<circle cx="112.8" cy="1127.1" r="3.8" fill="#3d9e7b"/>
<circle cx="126.3" cy="1113.1" r="3.8" fill="#3d9e7b"/>
<circle cx="172.6" cy="1027.4" r="3.8" fill="#3d9e7b"/>
<circle cx="218.9" cy="1067.6" r="3.8" fill="#3d9e7b"/>
<circle cx="227.9" cy="1089.9" r="3.8" fill="#3d9e7b"/>
<circle cx="236.9" cy="1095.9" r="3.8" fill="#3d9e7b"/>
<circle cx="245.9" cy="1098.9" r="3.8" fill="#3d9e7b"/>
<circle cx="254.9" cy="1098.9" r="3.8" fill="#3d9e7b"/>
<circle cx="263.9" cy="1092.6" r="3.8" fill="#3d9e7b"/>
<circle cx="272.9" cy="1069.1" r="3.8" fill="#3d9e7b"/>
<circle cx="291.0" cy="1056.1" r="3.8" fill="#3d9e7b"/>
<circle cx="309.0" cy="1034.4" r="3.8" fill="#3d9e7b"/>
<circle cx="327.0" cy="1074.2" r="3.8" fill="#3d9e7b"/>
<circle cx="354.0" cy="1093.4" r="3.8" fill="#3d9e7b"/>
<circle cx="399.0" cy="1100.8" r="3.8" fill="#3d9e7b"/>
<circle cx="417.1" cy="1105.6" r="3.8" fill="#3d9e7b"/>
<circle cx="462.1" cy="1117.0" r="3.8" fill="#3d9e7b"/>
<text x="538.1" y="912.4" font-size="20.5" font-weight="bold" fill="#0a0a0a" stroke="#0a0a0a" stroke-width="1.1" stroke-linejoin="round">h</text>
<line x1="606.5" y1="925.7" x2="606.5" y2="1137.0" stroke="#2a2a2a" stroke-width="1.15"/>
<line x1="600.4" y1="925.5" x2="606.7" y2="925.5" stroke="#2a2a2a" stroke-width="1.15"/>
<text x="593.5" y="929.8" font-size="12.3" text-anchor="end" textLength="34.0" lengthAdjust="spacingAndGlyphs" fill="#2a2a2a">1,200</text>
<line x1="600.4" y1="978.5" x2="606.7" y2="978.5" stroke="#2a2a2a" stroke-width="1.15"/>
<text x="593.5" y="982.7" font-size="12.3" text-anchor="end" textLength="24.0" lengthAdjust="spacingAndGlyphs" fill="#2a2a2a">900</text>
<line x1="600.4" y1="1031.5" x2="606.7" y2="1031.5" stroke="#2a2a2a" stroke-width="1.15"/>
<text x="593.5" y="1035.5" font-size="12.3" text-anchor="end" textLength="24.0" lengthAdjust="spacingAndGlyphs" fill="#2a2a2a">600</text>
<line x1="600.4" y1="1084.5" x2="606.7" y2="1084.5" stroke="#2a2a2a" stroke-width="1.15"/>
<text x="593.5" y="1088.3" font-size="12.3" text-anchor="end" textLength="24.0" lengthAdjust="spacingAndGlyphs" fill="#2a2a2a">300</text>
<line x1="600.4" y1="1137.5" x2="606.7" y2="1137.5" stroke="#2a2a2a" stroke-width="1.15"/>
<text x="593.5" y="1141.1" font-size="12.3" text-anchor="end" textLength="8.0" lengthAdjust="spacingAndGlyphs" fill="#2a2a2a">0</text>
<line x1="606.5" y1="1137.0" x2="606.5" y2="1143.5" stroke="#2a2a2a" stroke-width="1.15"/>
<text x="606.7" y="1159.9" font-size="12.1" text-anchor="middle" textLength="7.5" lengthAdjust="spacingAndGlyphs" fill="#2a2a2a">0</text>
<text x="651.5" y="1159.9" font-size="12.1" text-anchor="middle" textLength="6.2" lengthAdjust="spacingAndGlyphs" fill="#2a2a2a">1</text>
<line x1="686.5" y1="1137.0" x2="686.5" y2="1143.5" stroke="#2a2a2a" stroke-width="1.15"/>
<text x="695.5" y="1159.9" font-size="12.1" text-anchor="middle" textLength="7.5" lengthAdjust="spacingAndGlyphs" fill="#2a2a2a">2</text>
<line x1="713.5" y1="1137.0" x2="713.5" y2="1143.5" stroke="#2a2a2a" stroke-width="1.15"/>
<line x1="740.5" y1="1137.0" x2="740.5" y2="1143.5" stroke="#2a2a2a" stroke-width="1.15"/>
<text x="740.2" y="1159.9" font-size="12.1" text-anchor="middle" textLength="7.5" lengthAdjust="spacingAndGlyphs" fill="#2a2a2a">5</text>
<line x1="785.5" y1="1137.0" x2="785.5" y2="1143.5" stroke="#2a2a2a" stroke-width="1.15"/>
<text x="785.5" y="1159.9" font-size="12.1" text-anchor="middle" textLength="13.7" lengthAdjust="spacingAndGlyphs" fill="#2a2a2a">10</text>
<line x1="830.5" y1="1137.0" x2="830.5" y2="1143.5" stroke="#2a2a2a" stroke-width="1.15"/>
<text x="830.3" y="1159.9" font-size="12.1" text-anchor="middle" textLength="13.7" lengthAdjust="spacingAndGlyphs" fill="#2a2a2a">15</text>
<line x1="875.5" y1="1137.0" x2="875.5" y2="1143.5" stroke="#2a2a2a" stroke-width="1.15"/>
<text x="875.1" y="1159.9" font-size="12.1" text-anchor="middle" textLength="15.0" lengthAdjust="spacingAndGlyphs" fill="#2a2a2a">20</text>
<line x1="920.5" y1="1137.0" x2="920.5" y2="1143.5" stroke="#2a2a2a" stroke-width="1.15"/>
<text x="920.5" y="1159.9" font-size="12.1" text-anchor="middle" textLength="15.0" lengthAdjust="spacingAndGlyphs" fill="#2a2a2a">25</text>
<line x1="964.5" y1="1137.0" x2="964.5" y2="1143.5" stroke="#2a2a2a" stroke-width="1.15"/>
<text x="964.8" y="1159.9" font-size="12.1" text-anchor="middle" textLength="15.0" lengthAdjust="spacingAndGlyphs" fill="#2a2a2a">30</text>
<line x1="690.1" y1="1140.8" x2="697.3" y2="1133.2" stroke="#2a2a2a" stroke-width="1"/>
<line x1="699.7" y1="1140.8" x2="706.9" y2="1133.2" stroke="#2a2a2a" stroke-width="1"/>
<text x="797.5" y="1183.0" font-size="13.6" text-anchor="middle" textLength="128.9" lengthAdjust="spacingAndGlyphs" fill="#2a2a2a">Days after infusion</text>
<text transform="translate(549.3,1031.6) rotate(-90) scale(1.076,1)" x="0" y="0" font-size="14" text-anchor="middle" fill="#2a2a2a">IL-10 (pg ml<tspan font-size="9.5" dy="-5.2">−1</tspan><tspan dy="5.2">)</tspan></text>
<line x1="607.5" y1="961.3" x2="969.3" y2="961.3" stroke="#4a4a4a" stroke-width="1.0" stroke-dasharray="7,6.9" stroke-dashoffset="2.80"/>
<text x="945.8" y="980.2" font-size="14.0" textLength="28.8" lengthAdjust="spacingAndGlyphs" fill="#2a2a2a">LOD</text>
<polyline points="606.7,1137.0 620.1,960.9 666.7,1136.1 713.4,1137.0 749.3,1136.1 767.3,1115.9 785.2,971.7 803.2,1128.5 821.1,1125.6 946.8,1137.0" fill="none" stroke="#bdbdbd" stroke-width="1.2" stroke-linejoin="round" clip-path="url(#clip_h)"/>
<polyline points="606.7,1137.0 612.1,1015.5 633.6,960.9 641.2,960.9 686.4,1130.0 713.4,1134.4 749.3,1136.1 758.3,1120.3 767.3,1090.7 776.2,983.3 794.2,1059.0 803.2,1135.2 848.1,1137.0 866.0,1137.0" fill="none" stroke="#dfb37f" stroke-width="1.3" stroke-linejoin="round" clip-path="url(#clip_h)"/>
<polyline points="606.7,1137.0 615.7,1056.0 666.7,1026.1 713.4,1136.1 722.4,1136.5 749.3,1131.7 785.2,1023.1 794.2,1137.0 875.0,1137.0" fill="none" stroke="#5e93d2" stroke-width="1.4" stroke-linejoin="round" clip-path="url(#clip_h)"/>
<polyline points="606.7,1137.0 626.9,960.9 666.7,960.9 713.4,1118.2 731.4,1130.5 749.3,1123.4 758.3,1102.5 767.3,1095.4 776.2,1099.1 785.2,1094.0 803.2,1044.2 821.1,1110.4 848.1,1112.9 866.0,1086.3 919.9,1091.2 946.8,1132.8" fill="none" stroke="#cf4654" stroke-width="1.5" stroke-linejoin="round" clip-path="url(#clip_h)"/>
<polyline points="606.7,1137.0 620.1,960.9 666.7,1111.3 713.4,1135.6 722.4,1136.5 731.4,1136.5 740.3,1136.5 749.3,1132.8 758.3,1125.6 767.3,1116.0 785.2,1121.5 803.2,1119.4 821.1,1131.9 848.1,1129.8 893.0,1132.8 910.9,1134.7 955.8,1135.2" fill="none" stroke="#3b9272" stroke-width="1.9" stroke-linejoin="round" clip-path="url(#clip_h)"/>
<line x1="606.7" y1="1137.5" x2="690.5" y2="1137.5" stroke="#2a2a2a" stroke-width="1.15"/>
<line x1="703.5" y1="1137.5" x2="964.8" y2="1137.5" stroke="#2a2a2a" stroke-width="1.15"/>
<circle cx="606.7" cy="1137.0" r="3.8" fill="#c3c3c3"/>
<circle cx="620.1" cy="960.9" r="3.8" fill="#c3c3c3"/>
<circle cx="666.7" cy="1136.1" r="3.8" fill="#c3c3c3"/>
<circle cx="713.4" cy="1137.0" r="3.8" fill="#c3c3c3"/>
<circle cx="785.2" cy="971.7" r="3.8" fill="#c3c3c3"/>
<circle cx="803.2" cy="1128.5" r="3.8" fill="#c3c3c3"/>
<circle cx="821.1" cy="1125.6" r="3.8" fill="#c3c3c3"/>
<circle cx="946.8" cy="1137.0" r="3.8" fill="#c3c3c3"/>
<circle cx="606.7" cy="1137.0" r="3.8" fill="#e6b47c"/>
<circle cx="612.1" cy="1015.5" r="3.8" fill="#e6b47c" opacity="0.55"/>
<circle cx="633.6" cy="960.9" r="3.8" fill="#e6b47c" opacity="0.55"/>
<circle cx="641.2" cy="960.9" r="3.8" fill="#e6b47c" opacity="0.55"/>
<circle cx="686.4" cy="1130.0" r="3.8" fill="#e6b47c"/>
<circle cx="713.4" cy="1134.4" r="3.8" fill="#e6b47c"/>
<circle cx="749.3" cy="1136.1" r="3.8" fill="#e6b47c"/>
<circle cx="758.3" cy="1120.3" r="3.8" fill="#e6b47c"/>
<circle cx="767.3" cy="1090.7" r="3.8" fill="#e6b47c"/>
<circle cx="776.2" cy="983.3" r="3.8" fill="#e6b47c"/>
<circle cx="794.2" cy="1059.0" r="3.8" fill="#e6b47c"/>
<circle cx="803.2" cy="1135.2" r="3.8" fill="#e6b47c"/>
<circle cx="848.1" cy="1137.0" r="3.8" fill="#e6b47c"/>
<circle cx="866.0" cy="1137.0" r="3.8" fill="#e6b47c"/>
<circle cx="606.7" cy="1137.0" r="3.8" fill="#6399dc"/>
<circle cx="666.7" cy="1026.1" r="3.8" fill="#6399dc"/>
<circle cx="713.4" cy="1136.1" r="3.8" fill="#6399dc"/>
<circle cx="722.4" cy="1136.5" r="3.8" fill="#6399dc"/>
<circle cx="749.3" cy="1131.7" r="3.8" fill="#6399dc"/>
<circle cx="785.2" cy="1023.1" r="3.8" fill="#6399dc"/>
<circle cx="794.2" cy="1137.0" r="3.8" fill="#6399dc"/>
<circle cx="875.0" cy="1137.0" r="3.8" fill="#6399dc"/>
<circle cx="606.7" cy="1137.0" r="3.8" fill="#dc4352"/>
<circle cx="626.9" cy="960.9" r="3.8" fill="#dc4352"/>
<circle cx="666.7" cy="960.9" r="3.8" fill="#dc4352"/>
<circle cx="713.4" cy="1118.2" r="3.8" fill="#dc4352"/>
<circle cx="731.4" cy="1130.5" r="3.8" fill="#dc4352"/>
<circle cx="749.3" cy="1123.4" r="3.8" fill="#dc4352"/>
<circle cx="758.3" cy="1102.5" r="3.8" fill="#dc4352"/>
<circle cx="767.3" cy="1095.4" r="3.8" fill="#dc4352"/>
<circle cx="776.2" cy="1099.1" r="3.8" fill="#dc4352"/>
<circle cx="785.2" cy="1094.0" r="3.8" fill="#dc4352"/>
<circle cx="803.2" cy="1044.2" r="3.8" fill="#dc4352"/>
<circle cx="821.1" cy="1110.4" r="3.8" fill="#dc4352"/>
<circle cx="848.1" cy="1112.9" r="3.8" fill="#dc4352"/>
<circle cx="866.0" cy="1086.3" r="3.8" fill="#dc4352"/>
<circle cx="919.9" cy="1091.2" r="3.8" fill="#dc4352"/>
<circle cx="946.8" cy="1132.8" r="3.8" fill="#dc4352"/>
<circle cx="606.7" cy="1137.0" r="3.8" fill="#3d9e7b"/>
<circle cx="620.1" cy="960.9" r="3.8" fill="#3d9e7b"/>
<circle cx="666.7" cy="1111.3" r="3.8" fill="#3d9e7b"/>
<circle cx="713.4" cy="1135.6" r="3.8" fill="#3d9e7b"/>
<circle cx="722.4" cy="1136.5" r="3.8" fill="#3d9e7b"/>
<circle cx="731.4" cy="1136.5" r="3.8" fill="#3d9e7b"/>
<circle cx="740.3" cy="1136.5" r="3.8" fill="#3d9e7b"/>
<circle cx="749.3" cy="1132.8" r="3.8" fill="#3d9e7b"/>
<circle cx="758.3" cy="1125.6" r="3.8" fill="#3d9e7b"/>
<circle cx="767.3" cy="1116.0" r="3.8" fill="#3d9e7b"/>
<circle cx="785.2" cy="1121.5" r="3.8" fill="#3d9e7b"/>
<circle cx="803.2" cy="1119.4" r="3.8" fill="#3d9e7b"/>
<circle cx="821.1" cy="1131.9" r="3.8" fill="#3d9e7b"/>
<circle cx="848.1" cy="1129.8" r="3.8" fill="#3d9e7b"/>
<circle cx="893.0" cy="1132.8" r="3.8" fill="#3d9e7b"/>
<circle cx="910.9" cy="1134.7" r="3.8" fill="#3d9e7b"/>
<circle cx="955.8" cy="1135.2" r="3.8" fill="#3d9e7b"/>
<text x="34.4" y="1213.2" font-size="20.5" font-weight="bold" fill="#0a0a0a" stroke="#0a0a0a" stroke-width="1.1" stroke-linejoin="round">i</text>
<line x1="115.5" y1="1212.9" x2="115.5" y2="1423.8" stroke="#2a2a2a" stroke-width="1.15"/>
<line x1="109.6" y1="1212.5" x2="115.9" y2="1212.5" stroke="#2a2a2a" stroke-width="1.15"/>
<text x="102.7" y="1217.0" font-size="12.3" text-anchor="end" textLength="37.0" lengthAdjust="spacingAndGlyphs" fill="#2a2a2a">3,000</text>
<line x1="109.6" y1="1248.5" x2="115.9" y2="1248.5" stroke="#2a2a2a" stroke-width="1.15"/>
<text x="102.7" y="1252.1" font-size="12.3" text-anchor="end" textLength="37.0" lengthAdjust="spacingAndGlyphs" fill="#2a2a2a">2,500</text>
<line x1="109.6" y1="1283.5" x2="115.9" y2="1283.5" stroke="#2a2a2a" stroke-width="1.15"/>
<text x="102.7" y="1287.1" font-size="12.3" text-anchor="end" textLength="37.0" lengthAdjust="spacingAndGlyphs" fill="#2a2a2a">2,000</text>
<line x1="109.6" y1="1318.5" x2="115.9" y2="1318.5" stroke="#2a2a2a" stroke-width="1.15"/>
<text x="102.7" y="1322.1" font-size="12.3" text-anchor="end" textLength="34.0" lengthAdjust="spacingAndGlyphs" fill="#2a2a2a">1,000</text>
<line x1="109.6" y1="1353.5" x2="115.9" y2="1353.5" stroke="#2a2a2a" stroke-width="1.15"/>
<text x="102.7" y="1357.6" font-size="12.3" text-anchor="end" textLength="34.0" lengthAdjust="spacingAndGlyphs" fill="#2a2a2a">1,500</text>
<line x1="109.6" y1="1388.5" x2="115.9" y2="1388.5" stroke="#2a2a2a" stroke-width="1.15"/>
<text x="102.7" y="1392.9" font-size="12.3" text-anchor="end" textLength="24.0" lengthAdjust="spacingAndGlyphs" fill="#2a2a2a">500</text>
<line x1="109.6" y1="1423.5" x2="115.9" y2="1423.5" stroke="#2a2a2a" stroke-width="1.15"/>
<text x="102.7" y="1427.9" font-size="12.3" text-anchor="end" textLength="8.0" lengthAdjust="spacingAndGlyphs" fill="#2a2a2a">0</text>
<line x1="115.5" y1="1423.8" x2="115.5" y2="1430.3" stroke="#2a2a2a" stroke-width="1.15"/>
<text x="115.9" y="1446.7" font-size="12.1" text-anchor="middle" textLength="7.5" lengthAdjust="spacingAndGlyphs" fill="#2a2a2a">0</text>
<line x1="195.5" y1="1423.8" x2="195.5" y2="1430.3" stroke="#2a2a2a" stroke-width="1.15"/>
<text x="195.9" y="1446.7" font-size="12.1" text-anchor="middle" textLength="6.2" lengthAdjust="spacingAndGlyphs" fill="#2a2a2a">1</text>
<line x1="222.5" y1="1423.8" x2="222.5" y2="1430.3" stroke="#2a2a2a" stroke-width="1.15"/>
<text x="222.4" y="1446.7" font-size="12.1" text-anchor="middle" textLength="7.5" lengthAdjust="spacingAndGlyphs" fill="#2a2a2a">2</text>
<line x1="249.5" y1="1423.8" x2="249.5" y2="1430.3" stroke="#2a2a2a" stroke-width="1.15"/>
<text x="249.0" y="1446.7" font-size="12.1" text-anchor="middle" textLength="7.5" lengthAdjust="spacingAndGlyphs" fill="#2a2a2a">5</text>
<line x1="294.5" y1="1423.8" x2="294.5" y2="1430.3" stroke="#2a2a2a" stroke-width="1.15"/>
<text x="294.4" y="1446.7" font-size="12.1" text-anchor="middle" textLength="13.7" lengthAdjust="spacingAndGlyphs" fill="#2a2a2a">10</text>
<line x1="339.5" y1="1423.8" x2="339.5" y2="1430.3" stroke="#2a2a2a" stroke-width="1.15"/>
<text x="339.3" y="1446.7" font-size="12.1" text-anchor="middle" textLength="13.7" lengthAdjust="spacingAndGlyphs" fill="#2a2a2a">15</text>
<line x1="384.5" y1="1423.8" x2="384.5" y2="1430.3" stroke="#2a2a2a" stroke-width="1.15"/>
<text x="384.4" y="1446.7" font-size="12.1" text-anchor="middle" textLength="15.0" lengthAdjust="spacingAndGlyphs" fill="#2a2a2a">20</text>
<line x1="429.5" y1="1423.8" x2="429.5" y2="1430.3" stroke="#2a2a2a" stroke-width="1.15"/>
<text x="429.2" y="1446.7" font-size="12.1" text-anchor="middle" textLength="15.0" lengthAdjust="spacingAndGlyphs" fill="#2a2a2a">25</text>
<line x1="474.5" y1="1423.8" x2="474.5" y2="1430.3" stroke="#2a2a2a" stroke-width="1.15"/>
<text x="474.0" y="1446.7" font-size="12.1" text-anchor="middle" textLength="15.0" lengthAdjust="spacingAndGlyphs" fill="#2a2a2a">30</text>
<line x1="197.9" y1="1427.6" x2="205.1" y2="1420.0" stroke="#2a2a2a" stroke-width="1"/>
<line x1="208.9" y1="1427.6" x2="216.1" y2="1420.0" stroke="#2a2a2a" stroke-width="1"/>
<text x="292.9" y="1473.8" font-size="13.6" text-anchor="middle" textLength="130.8" lengthAdjust="spacingAndGlyphs" fill="#2a2a2a">Days after infusion</text>
<text transform="translate(45.4,1318.6) rotate(-90) scale(1.098,1)" x="0" y="0" font-size="14" text-anchor="middle" fill="#2a2a2a">IFNγ(pg ml<tspan font-size="9.5" dy="-5.2">−1</tspan><tspan dy="5.2">)</tspan></text>
<polyline points="115.9,1423.8 122.7,1323.5 129.5,1423.8 135.9,1423.1 195.9,1423.8" fill="none" stroke="#bdbdbd" stroke-width="1.2" stroke-linejoin="round" clip-path="url(#clip_i)"/>
<polyline points="122.7,1248.1 129.5,1248.1 135.9,1248.1 149.5,1248.1 222.4,1423.8 231.4,1423.8 240.4,1423.8 276.3,1420.3 294.3,1392.6 312.3,1423.8 330.2,1423.8" fill="none" stroke="#dfb37f" stroke-width="1.3" stroke-linejoin="round" clip-path="url(#clip_i)"/>
<polyline points="122.7,1248.1 195.9,1411.1 222.4,1423.8 249.4,1423.8 276.3,1415.1 294.3,1366.4 330.2,1423.8" fill="none" stroke="#5e93d2" stroke-width="1.4" stroke-linejoin="round" clip-path="url(#clip_i)"/>
<polyline points="115.9,1423.8 122.7,1406.6 195.9,1423.8 222.4,1423.8 258.3,1423.8 276.3,1423.8 357.2,1423.8" fill="none" stroke="#cf4654" stroke-width="1.5" stroke-linejoin="round" clip-path="url(#clip_i)"/>
<polyline points="115.9,1423.8 122.7,1248.1 195.9,1420.6 222.4,1423.8 231.4,1423.8 240.4,1423.8 285.3,1417.0 312.3,1420.2 330.2,1423.8 402.1,1421.8 420.1,1423.8 456.0,1423.8" fill="none" stroke="#3b9272" stroke-width="1.9" stroke-linejoin="round" clip-path="url(#clip_i)"/>
<line x1="115.9" y1="1423.5" x2="200.5" y2="1423.5" stroke="#2a2a2a" stroke-width="1.15"/>
<line x1="213.0" y1="1423.5" x2="474.0" y2="1423.5" stroke="#2a2a2a" stroke-width="1.15"/>
<circle cx="115.9" cy="1423.8" r="3.8" fill="#c3c3c3"/>
<circle cx="122.7" cy="1323.5" r="3.8" fill="#c3c3c3"/>
<circle cx="129.5" cy="1423.8" r="3.8" fill="#c3c3c3"/>
<circle cx="135.9" cy="1423.1" r="3.8" fill="#c3c3c3"/>
<circle cx="195.9" cy="1423.8" r="3.8" fill="#c3c3c3"/>
<circle cx="122.7" cy="1248.1" r="3.8" fill="#e6b47c"/>
<circle cx="129.5" cy="1248.1" r="3.8" fill="#e6b47c"/>
<circle cx="135.9" cy="1248.1" r="3.8" fill="#e6b47c"/>
<circle cx="149.5" cy="1248.1" r="3.8" fill="#e6b47c"/>
<circle cx="222.4" cy="1423.8" r="3.8" fill="#e6b47c"/>
<circle cx="231.4" cy="1423.8" r="3.8" fill="#e6b47c"/>
<circle cx="240.4" cy="1423.8" r="3.8" fill="#e6b47c"/>
<circle cx="276.3" cy="1420.3" r="3.8" fill="#e6b47c"/>
<circle cx="294.3" cy="1392.6" r="3.8" fill="#e6b47c"/>
<circle cx="312.3" cy="1423.8" r="3.8" fill="#e6b47c"/>
<circle cx="330.2" cy="1423.8" r="3.8" fill="#e6b47c"/>
<circle cx="122.7" cy="1248.1" r="3.8" fill="#6399dc"/>
<circle cx="195.9" cy="1411.1" r="3.8" fill="#6399dc"/>
<circle cx="222.4" cy="1423.8" r="3.8" fill="#6399dc"/>
<circle cx="276.3" cy="1415.1" r="3.8" fill="#6399dc"/>
<circle cx="294.3" cy="1366.4" r="3.8" fill="#6399dc"/>
<circle cx="330.2" cy="1423.8" r="3.8" fill="#6399dc"/>
<circle cx="115.9" cy="1423.8" r="3.8" fill="#dc4352"/>
<circle cx="122.7" cy="1406.6" r="3.8" fill="#dc4352"/>
<circle cx="195.9" cy="1423.8" r="3.8" fill="#dc4352"/>
<circle cx="222.4" cy="1423.8" r="3.8" fill="#dc4352"/>
<circle cx="258.3" cy="1423.8" r="3.8" fill="#dc4352"/>
<circle cx="276.3" cy="1423.8" r="3.8" fill="#dc4352"/>
<circle cx="357.2" cy="1423.8" r="3.8" fill="#dc4352"/>
<circle cx="115.9" cy="1423.8" r="3.8" fill="#3d9e7b"/>
<circle cx="122.7" cy="1248.1" r="3.8" fill="#3d9e7b"/>
<circle cx="195.9" cy="1420.6" r="3.8" fill="#3d9e7b"/>
<circle cx="222.4" cy="1423.8" r="3.8" fill="#3d9e7b"/>
<circle cx="231.4" cy="1423.8" r="3.8" fill="#3d9e7b"/>
<circle cx="240.4" cy="1423.8" r="3.8" fill="#3d9e7b"/>
<circle cx="285.3" cy="1417.0" r="3.8" fill="#3d9e7b"/>
<circle cx="312.3" cy="1420.2" r="3.8" fill="#3d9e7b"/>
<circle cx="330.2" cy="1423.8" r="3.8" fill="#3d9e7b"/>
<circle cx="402.1" cy="1421.8" r="3.8" fill="#3d9e7b"/>
<circle cx="420.1" cy="1423.8" r="3.8" fill="#3d9e7b"/>
<circle cx="456.0" cy="1423.8" r="3.8" fill="#3d9e7b"/>
</svg>
</body></html>
